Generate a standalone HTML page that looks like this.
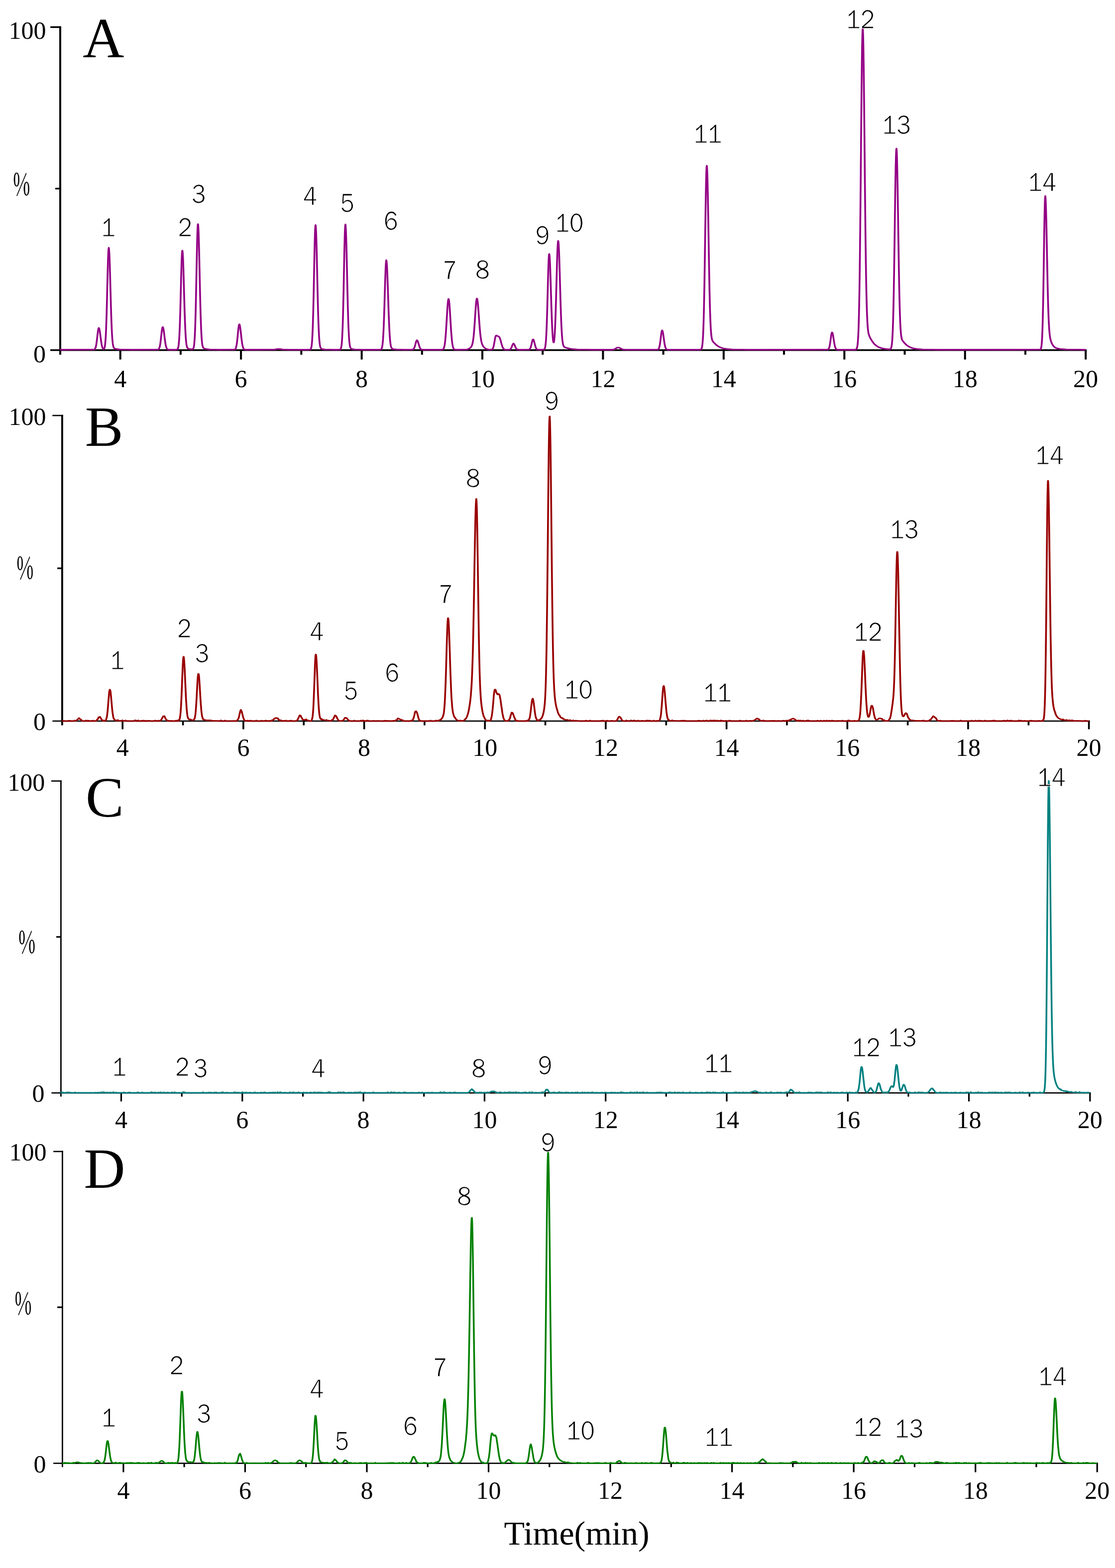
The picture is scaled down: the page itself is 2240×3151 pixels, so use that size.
<!DOCTYPE html>
<html><head><meta charset="utf-8"><title>Chromatograms</title>
<style>
html,body{margin:0;padding:0;background:#fff;}
svg{display:block;}
.ser{font-family:'Liberation Serif', serif;font-size:50px;fill:#000;}
.pct{font-family:'Noto Serif CJK SC', 'Liberation Serif', serif;font-size:60.7px;fill:#000;stroke:#000;stroke-width:0.5px;}
.let{font-family:'Liberation Serif', serif;font-size:115px;fill:#000;}
.ttl{font-family:'Liberation Serif', serif;font-size:68px;fill:#000;}
.pk{font-family:'WenQuanYi Zen Hei', sans-serif;font-size:53.6px;fill:#000;stroke:#fff;stroke-width:1.1px;}
</style></head>
<body>
<svg width="2240" height="3151" viewBox="0 0 2240 3151">
<rect x="0" y="0" width="2240" height="3151" fill="#fff"/>
<rect x="101.0" y="701.9" width="2082.1" height="3.4" fill="#000"/>
<rect x="239.7" y="703.6" width="4.0" height="18.9" fill="#000"/>
<rect x="360.9" y="703.6" width="4.0" height="9.2" fill="#000"/>
<rect x="482.1" y="703.6" width="4.0" height="18.9" fill="#000"/>
<rect x="603.3" y="703.6" width="4.0" height="9.2" fill="#000"/>
<rect x="724.6" y="703.6" width="4.0" height="18.9" fill="#000"/>
<rect x="845.8" y="703.6" width="4.0" height="9.2" fill="#000"/>
<rect x="967.0" y="703.6" width="4.0" height="18.9" fill="#000"/>
<rect x="1088.2" y="703.6" width="4.0" height="9.2" fill="#000"/>
<rect x="1209.4" y="703.6" width="4.0" height="18.9" fill="#000"/>
<rect x="1330.6" y="703.6" width="4.0" height="9.2" fill="#000"/>
<rect x="1451.8" y="703.6" width="4.0" height="18.9" fill="#000"/>
<rect x="1573.0" y="703.6" width="4.0" height="9.2" fill="#000"/>
<rect x="1694.3" y="703.6" width="4.0" height="18.9" fill="#000"/>
<rect x="1815.5" y="703.6" width="4.0" height="9.2" fill="#000"/>
<rect x="1936.7" y="703.6" width="4.0" height="18.9" fill="#000"/>
<rect x="2057.9" y="703.6" width="4.0" height="9.2" fill="#000"/>
<rect x="2179.1" y="703.6" width="4.0" height="18.9" fill="#000"/>
<rect x="119.0" y="52.8" width="4.0" height="660.0" fill="#000"/>
<rect x="101.2" y="52.8" width="21.8" height="3.4" fill="#000"/>
<rect x="111.0" y="377.4" width="10.0" height="3.2" fill="#000"/>
<g fill="none" stroke="#940085" stroke-width="2.8" stroke-linejoin="round">
<path id="trA" transform="translate(-0.4,0)" d="M120.5 702.8 L187.5 702.7 L188 702.7 L188.5 702.6 L189 702.5 L189.5 702.3 L190 702 L190.5 701.6 L191 700.9 L191.5 699.9 L192 698.6 L192.5 696.9 L193 694.7 L193.5 691.9 L194 688.6 L194.5 684.8 L195 680.7 L195.5 676.3 L196 671.9 L196.5 667.8 L197 664.2 L197.5 661.5 L198 659.7 L198.5 659.1 L199 659.6 L199.5 660.9 L200 663.2 L200.5 666 L201 669.5 L201.5 673.2 L202 677.1 L202.5 680.9 L203 684.6 L203.5 688 L204 691 L204.5 693.6 L205 695.8 L205.5 697.5 L206 698.9 L206.5 700 L207 700.7 L207.5 701.2 L208 701.5 L208.5 701.4 L209 701.1 L209.5 700.3 L210 699 L210.5 696.9 L211 693.7 L211.5 689.3 L212 683.2 L212.5 675.1 L213 664.6 L213.5 651.7 L214 636.3 L214.5 618.6 L215 599.1 L215.5 578.5 L216 558 L216.5 538.7 L217 522 L217.5 509 L218 500.7 L218.5 497.9 L219 500.2 L219.5 506.9 L220 517.7 L220.5 531.8 L221 548.3 L221.5 566.3 L222 584.9 L222.5 603.1 L223 620.4 L223.5 636 L224 649.8 L224.5 661.5 L225 671.2 L225.5 679 L226 685 L226.5 689.6 L227 693.1 L227.5 695.5 L228 697.3 L228.5 698.5 L229 699.4 L229.5 699.9 L230 700.3 L230.5 700.6 L231.5 701 L232.5 701.2 L233.5 701.4 L234.5 701.6 L235.5 701.7 L236.5 701.9 L237.5 702 L238.5 702.1 L239.5 702.2 L240.5 702.3 L241.5 702.3 L242.5 702.4 L243.5 702.5 L245.5 702.5 L247.5 702.6 L250.5 702.7 L254.5 702.7 L263.5 702.8 L316 702.7 L316.5 702.7 L317 702.6 L317.5 702.5 L318 702.2 L318.5 701.9 L319 701.4 L319.5 700.6 L320 699.6 L320.5 698.1 L321 696.2 L321.5 693.8 L322 690.8 L322.5 687.2 L323 683.2 L323.5 678.8 L324 674.2 L324.5 669.7 L325 665.5 L325.5 661.9 L326 659.2 L326.5 657.6 L327 657.2 L327.5 657.9 L328 659.5 L328.5 662 L329 665.1 L329.5 668.8 L330 672.7 L330.5 676.8 L331 680.8 L331.5 684.5 L332 688 L332.5 691.1 L333 693.7 L333.5 695.9 L334 697.6 L334.5 699.1 L335 700.1 L335.5 700.9 L336 701.5 L336.5 702 L337 702.2 L337.5 702.4 L338 702.6 L338.5 702.7 L339 702.7 L340 702.8 L354 702.8 L355 702.6 L355.5 702.5 L356 702.2 L356.5 701.8 L357 701.2 L357.5 700.1 L358 698.5 L358.5 696 L359 692.5 L359.5 687.5 L360 680.8 L360.5 672 L361 660.9 L361.5 647.3 L362 631.3 L362.5 613.3 L363 593.8 L363.5 573.7 L364 554 L364.5 536.1 L365 521.1 L365.5 510.2 L366 504.2 L366.5 503.6 L367 507.6 L367.5 515.8 L368 527.6 L368.5 542.4 L369 559.2 L369.5 577.1 L370 595.1 L370.5 612.6 L371 628.8 L371.5 643.3 L372 656 L372.5 666.6 L373 675.3 L373.5 682.1 L374 687.4 L374.5 691.4 L375 694.4 L375.5 696.5 L376 698 L376.5 699 L377 699.7 L377.5 700.2 L378 700.5 L378.5 700.8 L379.5 701.1 L380.5 701.3 L381.5 701.5 L382.5 701.6 L383.5 701.8 L384.5 701.9 L385.5 702 L386.5 701.9 L387 701.7 L387.5 701.4 L388 700.9 L388.5 700 L389 698.6 L389.5 696.3 L390 693 L390.5 688.2 L391 681.6 L391.5 672.6 L392 660.9 L392.5 646.2 L393 628.4 L393.5 607.7 L394 584.4 L394.5 559.5 L395 534 L395.5 509.4 L396 487.3 L396.5 469.3 L397 456.6 L397.5 450.4 L398 450.9 L398.5 457.1 L399 468.5 L399.5 484.3 L400 503.6 L400.5 525.3 L401 548.1 L401.5 570.9 L402 592.7 L402.5 612.9 L403 630.8 L403.5 646.3 L404 659.3 L404.5 669.8 L405 678.1 L405.5 684.4 L406 689.2 L406.5 692.7 L407 695.2 L407.5 696.9 L408 698.1 L408.5 699 L409 699.5 L409.5 699.9 L410 700.2 L411 700.6 L412 700.9 L413 701.1 L414 701.3 L415 701.5 L416 701.7 L417 701.8 L418 702 L419 702.1 L420 702.2 L421 702.3 L422 702.3 L423 702.4 L424 702.4 L426 702.5 L428 702.6 L430 702.6 L433 702.7 L438 702.8 L470 702.7 L470.5 702.7 L471 702.6 L471.5 702.4 L472 702.1 L472.5 701.7 L473 701.1 L473.5 700.2 L474 698.9 L474.5 697.2 L475 694.9 L475.5 692.1 L476 688.6 L476.5 684.5 L477 679.9 L477.5 674.9 L478 669.7 L478.5 664.7 L479 660.1 L479.5 656.3 L480 653.5 L480.5 652 L481 651.8 L481.5 652.8 L482 654.8 L482.5 657.7 L483 661.4 L483.5 665.5 L484 670 L484.5 674.5 L485 679 L485.5 683.1 L486 686.9 L486.5 690.3 L487 693.1 L487.5 695.5 L488 697.4 L488.5 698.9 L489 700 L489.5 700.9 L490 701.5 L490.5 701.9 L491 702.2 L491.5 702.4 L492 702.6 L492.5 702.7 L493 702.7 L494 702.8 L548 702.7 L549 702.7 L550 702.6 L551 702.5 L552 702.4 L553 702.2 L554 702.1 L555 701.9 L556 701.7 L557 701.5 L558 701.4 L559 701.3 L561 701.3 L562 701.4 L563 701.5 L564 701.7 L565 701.9 L566 702.1 L567 702.2 L568 702.4 L569 702.5 L570 702.6 L571 702.7 L573 702.7 L580 702.8 L621 702.8 L622 702.7 L622.5 702.6 L623 702.5 L623.5 702.2 L624 701.7 L624.5 700.9 L625 699.7 L625.5 697.8 L626 695 L626.5 690.8 L627 685 L627.5 677 L628 666.6 L628.5 653.2 L629 636.8 L629.5 617.3 L630 595.1 L630.5 570.9 L631 545.7 L631.5 520.8 L632 497.7 L632.5 478 L633 463.1 L633.5 454.3 L634 452.2 L634.5 456.2 L635 465.5 L635.5 479.6 L636 497.5 L636.5 518.3 L637 540.6 L637.5 563.4 L638 585.6 L638.5 606.4 L639 625.2 L639.5 641.7 L640 655.6 L640.5 667 L641 676.1 L641.5 683.2 L642 688.5 L642.5 692.5 L643 695.3 L643.5 697.3 L644 698.7 L644.5 699.7 L645 700.3 L645.5 700.7 L646 701 L647 701.4 L648 701.7 L649 701.8 L650 702 L651 702.1 L652 702.2 L653 702.3 L654 702.4 L655 702.4 L656 702.5 L658 702.6 L660 702.6 L663 702.7 L668 702.8 L681 702.8 L682 702.7 L682.5 702.6 L683 702.5 L683.5 702.2 L684 701.7 L684.5 700.9 L685 699.7 L685.5 697.8 L686 694.9 L686.5 690.8 L687 684.9 L687.5 676.9 L688 666.4 L688.5 652.9 L689 636.4 L689.5 616.9 L690 594.6 L690.5 570.3 L691 544.9 L691.5 519.9 L692 496.7 L692.5 476.9 L693 462 L693.5 453.1 L694 451 L694.5 455 L695 464.3 L695.5 478.5 L696 496.5 L696.5 517.4 L697 539.8 L697.5 562.7 L698 585.1 L698.5 606 L699 624.9 L699.5 641.4 L700 655.3 L700.5 666.8 L701 676 L701.5 683.1 L702 688.5 L702.5 692.4 L703 695.3 L703.5 697.3 L704 698.7 L704.5 699.7 L705 700.3 L705.5 700.7 L706 701 L707 701.4 L708 701.6 L709 701.8 L710 702 L711 702.1 L712 702.2 L713 702.3 L714 702.4 L715 702.4 L716 702.5 L718 702.6 L720 702.6 L723 702.7 L728 702.8 L763 702.8 L764 702.7 L765 702.4 L765.5 702.1 L766 701.6 L766.5 700.8 L767 699.6 L767.5 697.9 L768 695.5 L768.5 692.1 L769 687.5 L769.5 681.4 L770 673.6 L770.5 663.9 L771 652.3 L771.5 638.8 L772 623.6 L772.5 607.3 L773 590.3 L773.5 573.5 L774 557.8 L774.5 544 L775 533.2 L775.5 526 L776 523 L776.5 524.1 L777 528.7 L777.5 536.5 L778 547.2 L778.5 560.1 L779 574.5 L779.5 589.7 L780 605.1 L780.5 620 L781 634 L781.5 646.7 L782 657.9 L782.5 667.4 L783 675.4 L783.5 681.9 L784 687 L784.5 691 L785 694 L785.5 696.3 L786 697.9 L786.5 699 L787 699.9 L787.5 700.4 L788 700.8 L788.5 701.1 L789.5 701.5 L790.5 701.7 L791.5 701.8 L792.5 702 L793.5 702.1 L794.5 702.2 L795.5 702.2 L796.5 702.3 L797.5 702.4 L798.5 702.4 L800.5 702.5 L802.5 702.6 L804.5 702.6 L807.5 702.7 L812.5 702.8 L827.5 702.7 L828.5 702.6 L829.5 702.3 L830.5 701.7 L831.5 700.6 L832.5 698.6 L833.5 695.7 L834.5 692 L835.5 688.3 L836.5 685.3 L837.5 683.8 L838.5 684.3 L839.5 686.4 L840.5 689.5 L841.5 693 L842.5 696.2 L843.5 698.7 L844.5 700.5 L845.5 701.6 L846.5 702.3 L847.5 702.6 L848.5 702.7 L849.5 702.8 L886.5 702.8 L887.5 702.7 L888.5 702.6 L889.5 702.2 L890 701.9 L890.5 701.5 L891 700.8 L891.5 699.9 L892 698.6 L892.5 696.9 L893 694.7 L893.5 691.8 L894 688.2 L894.5 683.8 L895 678.5 L895.5 672.4 L896 665.4 L896.5 657.7 L897 649.5 L897.5 640.9 L898 632.4 L898.5 624.2 L899 616.8 L899.5 610.4 L900 605.5 L900.5 602.2 L901 600.8 L901.5 601.4 L902 603.8 L902.5 607.8 L903 613.4 L903.5 620.2 L904 627.8 L904.5 635.9 L905 644.3 L905.5 652.5 L906 660.4 L906.5 667.6 L907 674.2 L907.5 679.9 L908 684.9 L908.5 689 L909 692.4 L909.5 695 L910 697.1 L910.5 698.8 L911 700 L911.5 700.8 L912 701.5 L912.5 701.9 L913 702.2 L913.5 702.4 L914.5 702.7 L915.5 702.7 L918.5 702.8 L931.5 702.7 L933.5 702.7 L934.5 702.6 L935.5 702.5 L936.5 702.4 L937.5 702.3 L938.5 702.1 L939.5 701.8 L940.5 701.5 L941.5 701.1 L942.5 700.6 L943.5 700 L944.5 699.2 L945.5 698.3 L946.5 697 L947 696.3 L947.5 695.4 L948 694.2 L948.5 692.9 L949 691.2 L949.5 689.2 L950 686.7 L950.5 683.6 L951 680 L951.5 675.6 L952 670.5 L952.5 664.7 L953 658.2 L953.5 651.1 L954 643.6 L954.5 635.8 L955 628.1 L955.5 620.8 L956 614.1 L956.5 608.4 L957 604 L957.5 601.2 L958 599.9 L958.5 600.4 L959 602.3 L959.5 605.6 L960 610.1 L960.5 615.6 L961 621.9 L961.5 628.7 L962 635.7 L962.5 642.8 L963 649.6 L963.5 656.1 L964 662.1 L964.5 667.5 L965 672.3 L965.5 676.5 L966 680.1 L966.5 683.2 L967 685.8 L967.5 688 L968 689.8 L968.5 691.4 L969 692.7 L969.5 693.8 L970 694.7 L970.5 695.5 L971.5 696.9 L972.5 698.1 L973.5 699 L974.5 699.8 L975.5 700.4 L976.5 701 L977.5 701.4 L978.5 701.8 L979.5 702 L980.5 702.2 L981.5 702.4 L982.5 702.5 L983.5 702.6 L984.5 702.7 L986.5 702.7 L987.5 702.6 L988.5 702.2 L989.5 701.4 L990.5 699.6 L991.5 696.6 L992.5 692 L993.5 686.3 L994.5 680.6 L995.5 676.2 L996.5 674.4 L997.5 674.2 L998.5 674.6 L999.5 675.3 L1000.5 675.8 L1001.5 676.1 L1002.5 676.7 L1003.5 678 L1004.5 680.4 L1005.5 683.4 L1006.5 687 L1007.5 690.8 L1008.5 694.2 L1009.5 697.1 L1010.5 699.3 L1011.5 700.8 L1012.5 701.7 L1013.5 702.3 L1014.5 702.6 L1015.5 702.7 L1016.5 702.8 L1022.5 702.7 L1023.5 702.6 L1024.5 702.3 L1025.5 701.6 L1026.5 700.4 L1027.5 698.5 L1028.5 696 L1029.5 693.4 L1030.5 691.2 L1031.5 690.3 L1032.5 690.9 L1033.5 692.6 L1034.5 695 L1035.5 697.4 L1036.5 699.5 L1037.5 701 L1038.5 701.9 L1039.5 702.4 L1040.5 702.6 L1041.5 702.7 L1044.5 702.8 L1061.5 702.7 L1062.5 702.6 L1063.5 702.2 L1064.5 701.4 L1065.5 699.7 L1066.5 697 L1067.5 693.2 L1068.5 688.7 L1069.5 684.6 L1070.5 682.1 L1071.5 682.1 L1072.5 684.3 L1073.5 688 L1074.5 692.2 L1075.5 696 L1076.5 698.9 L1077.5 700.8 L1078.5 701.9 L1079.5 702.4 L1080.5 702.7 L1081.5 702.8 L1090.5 702.8 L1091.5 702.7 L1092 702.6 L1092.5 702.5 L1093 702.3 L1093.5 701.9 L1094 701.2 L1094.5 700.2 L1095 698.6 L1095.5 696.2 L1096 692.8 L1096.5 688 L1097 681.6 L1097.5 673.1 L1098 662.3 L1098.5 649.2 L1099 633.8 L1099.5 616.4 L1100 597.6 L1100.5 578.1 L1101 559.2 L1101.5 541.8 L1102 527.4 L1102.5 516.8 L1103 511.1 L1103.5 510.4 L1104 513.9 L1104.5 521.1 L1105 531.5 L1105.5 544.6 L1106 559.7 L1106.5 575.9 L1107 592.5 L1107.5 608.9 L1108 624.4 L1108.5 638.6 L1109 651.2 L1109.5 662 L1110 670.9 L1110.5 677.9 L1111 683 L1111.5 686.4 L1112 688.1 L1112.5 688.1 L1113 686.4 L1113.5 682.9 L1114 677.6 L1114.5 670.3 L1115 660.9 L1115.5 649.5 L1116 636 L1116.5 620.5 L1117 603.4 L1117.5 585.1 L1118 566.2 L1118.5 547.5 L1119 529.8 L1119.5 513.9 L1120 500.7 L1120.5 491 L1121 485.3 L1121.5 484 L1122 486.8 L1122.5 493.6 L1123 504 L1123.5 517.3 L1124 532.9 L1124.5 550.1 L1125 568 L1125.5 585.8 L1126 603.1 L1126.5 619.2 L1127 633.8 L1127.5 646.6 L1128 657.7 L1128.5 666.9 L1129 674.4 L1129.5 680.4 L1130 685 L1130.5 688.6 L1131 691.3 L1131.5 693.2 L1132 694.7 L1132.5 695.7 L1133 696.4 L1133.5 697 L1134.5 697.7 L1135.5 698.1 L1136.5 698.5 L1137.5 698.8 L1138.5 699.2 L1139.5 699.5 L1140.5 699.7 L1141.5 700 L1142.5 700.2 L1143.5 700.5 L1144.5 700.7 L1145.5 700.8 L1146.5 701 L1147.5 701.2 L1148.5 701.3 L1149.5 701.4 L1150.5 701.6 L1151.5 701.7 L1152.5 701.8 L1153.5 701.9 L1154.5 701.9 L1155.5 702 L1156.5 702.1 L1157.5 702.1 L1158.5 702.2 L1159.5 702.3 L1161.5 702.3 L1163.5 702.4 L1165.5 702.5 L1167.5 702.5 L1170.5 702.6 L1174.5 702.7 L1179.5 702.7 L1189.5 702.8 L1229.5 702.8 L1230.5 702.7 L1231.5 702.6 L1232.5 702.4 L1233.5 702.2 L1234.5 701.8 L1235.5 701.3 L1236.5 700.7 L1237.5 700.1 L1238.5 699.4 L1239.5 698.8 L1240.5 698.4 L1241.5 698.3 L1242.5 698.4 L1243.5 698.6 L1244.5 699 L1245.5 699.5 L1246.5 700.1 L1247.5 700.6 L1248.5 701.1 L1249.5 701.5 L1250.5 701.9 L1251.5 702.2 L1252.5 702.4 L1253.5 702.5 L1254.5 702.6 L1255.5 702.7 L1257.5 702.8 L1320.5 702.7 L1321 702.6 L1321.5 702.5 L1322 702.3 L1322.5 701.9 L1323 701.4 L1323.5 700.6 L1324 699.4 L1324.5 697.9 L1325 695.9 L1325.5 693.3 L1326 690.2 L1326.5 686.6 L1327 682.6 L1327.5 678.4 L1328 674.2 L1328.5 670.4 L1329 667.3 L1329.5 665.1 L1330 664 L1330.5 664.1 L1331 665.1 L1331.5 667 L1332 669.6 L1332.5 672.8 L1333 676.3 L1333.5 679.9 L1334 683.6 L1334.5 687 L1335 690.2 L1335.5 692.9 L1336 695.3 L1336.5 697.2 L1337 698.7 L1337.5 699.9 L1338 700.8 L1338.5 701.5 L1339 701.9 L1339.5 702.2 L1340 702.4 L1340.5 702.6 L1341 702.7 L1341.5 702.7 L1342.5 702.8 L1405.5 702.8 L1406.5 702.7 L1407.5 702.5 L1408.5 701.9 L1409 701.2 L1409.5 700.2 L1410 698.7 L1410.5 696.4 L1411 693.1 L1411.5 688.3 L1412 681.7 L1412.5 672.9 L1413 661.2 L1413.5 646.4 L1414 628 L1414.5 605.8 L1415 580 L1415.5 550.7 L1416 518.8 L1416.5 485.2 L1417 451.4 L1417.5 418.9 L1418 389.4 L1418.5 364.7 L1419 346.4 L1419.5 335.6 L1420 333 L1420.5 338 L1421 349.9 L1421.5 367.9 L1422 391.1 L1422.5 418.2 L1423 447.7 L1423.5 478.3 L1424 508.6 L1424.5 537.5 L1425 564.3 L1425.5 588.2 L1426 608.9 L1426.5 626.5 L1427 640.9 L1427.5 652.4 L1428 661.5 L1428.5 668.4 L1429 673.6 L1429.5 677.5 L1430 680.3 L1430.5 682.3 L1431 683.8 L1431.5 684.9 L1432 685.8 L1433 687.2 L1434 688.3 L1435 689.3 L1436 690.3 L1437 691.3 L1438 692.2 L1439 693.1 L1440 693.9 L1441 694.7 L1442 695.4 L1443 696 L1444 696.6 L1445 697.1 L1446 697.6 L1447 698.1 L1448 698.5 L1449 698.9 L1450 699.2 L1451 699.5 L1452 699.8 L1453 700.1 L1454 700.3 L1455 700.5 L1456 700.7 L1457 700.9 L1458 701.1 L1459 701.2 L1460 701.4 L1461 701.5 L1462 701.6 L1463 701.7 L1464 701.8 L1465 701.9 L1466 702 L1467 702 L1468 702.1 L1469 702.2 L1470 702.2 L1471 702.3 L1473 702.4 L1475 702.4 L1477 702.5 L1479 702.5 L1482 702.6 L1486 702.7 L1492 702.7 L1500 702.8 L1661.5 702.7 L1662 702.7 L1662.5 702.6 L1663 702.5 L1663.5 702.3 L1664 701.9 L1664.5 701.4 L1665 700.6 L1665.5 699.5 L1666 698.1 L1666.5 696.2 L1667 693.7 L1667.5 690.9 L1668 687.5 L1668.5 683.9 L1669 680.1 L1669.5 676.5 L1670 673.2 L1670.5 670.5 L1671 668.7 L1671.5 667.9 L1672 668.2 L1672.5 669.3 L1673 671.1 L1673.5 673.5 L1674 676.5 L1674.5 679.7 L1675 683 L1675.5 686.2 L1676 689.2 L1676.5 692 L1677 694.4 L1677.5 696.4 L1678 698.1 L1678.5 699.4 L1679 700.4 L1679.5 701.1 L1680 701.7 L1680.5 702.1 L1681 702.3 L1681.5 702.5 L1682 702.6 L1682.5 702.7 L1683.5 702.8 L1717 702.8 L1718 702.7 L1719 702.5 L1720 702 L1721 700.7 L1722 697.7 L1722.5 695 L1723 691.1 L1723.5 685.7 L1724 678.1 L1724.5 668 L1725 654.5 L1725.5 637.2 L1726 615.4 L1726.5 588.5 L1727 556.2 L1727.5 518.4 L1728 475.2 L1728.5 427.3 L1729 375.8 L1729.5 321.9 L1730 267.7 L1730.5 215.2 L1731 166.9 L1731.5 125 L1732 91.8 L1732.5 69 L1733 57.9 L1733.5 58.9 L1734 71 L1734.5 93.6 L1735 125.4 L1735.5 164.8 L1736 210 L1736.5 258.8 L1737 309.2 L1737.5 359.2 L1738 407.2 L1738.5 451.9 L1739 492.4 L1739.5 528.1 L1740 558.7 L1740.5 584.5 L1741 605.6 L1741.5 622.6 L1742 635.9 L1742.5 646.3 L1743 654.2 L1743.5 660.1 L1744 664.6 L1744.5 667.9 L1745 670.5 L1745.5 672.4 L1746.5 675.4 L1747.5 677.6 L1748.5 679.5 L1749.5 681.3 L1750.5 683 L1751.5 684.6 L1752.5 686.1 L1753.5 687.5 L1754.5 688.9 L1755.5 690.1 L1756.5 691.2 L1757.5 692.2 L1758.5 693.1 L1759.5 693.9 L1760.5 694.7 L1761.5 695.4 L1762.5 696 L1763.5 696.6 L1764.5 697.2 L1765.5 697.7 L1766.5 698.1 L1767.5 698.5 L1768.5 698.9 L1769.5 699.2 L1770.5 699.5 L1771.5 699.8 L1772.5 700.1 L1773.5 700.3 L1774.5 700.5 L1775.5 700.7 L1776.5 700.9 L1777.5 701.1 L1778.5 701.2 L1779.5 701.4 L1780.5 701.5 L1781.5 701.6 L1782.5 701.7 L1783.5 701.8 L1784.5 701.9 L1785.5 702 L1786.5 702 L1787.5 701.9 L1788.5 701.6 L1789.5 700.8 L1790 699.9 L1790.5 698.5 L1791 696.5 L1791.5 693.5 L1792 689.2 L1792.5 683.3 L1793 675.2 L1793.5 664.6 L1794 650.9 L1794.5 633.7 L1795 612.8 L1795.5 588 L1796 559.4 L1796.5 527.5 L1797 493.2 L1797.5 457.4 L1798 421.6 L1798.5 387.5 L1799 356.8 L1799.5 331.2 L1800 312.3 L1800.5 301.2 L1801 298.6 L1801.5 304 L1802 317 L1802.5 336.7 L1803 362 L1803.5 391.6 L1804 423.9 L1804.5 457.3 L1805 490.4 L1805.5 522.1 L1806 551.3 L1806.5 577.4 L1807 600.1 L1807.5 619.3 L1808 635 L1808.5 647.7 L1809 657.6 L1809.5 665.1 L1810 670.8 L1810.5 675 L1811 678.1 L1811.5 680.3 L1812 682 L1812.5 683.2 L1813 684.2 L1814 685.7 L1815 686.9 L1816 688 L1817 689.1 L1818 690.2 L1819 691.2 L1820 692.2 L1821 693.1 L1822 693.9 L1823 694.7 L1824 695.4 L1825 696 L1826 696.6 L1827 697.1 L1828 697.6 L1829 698.1 L1830 698.5 L1831 698.9 L1832 699.2 L1833 699.5 L1834 699.8 L1835 700.1 L1836 700.3 L1837 700.5 L1838 700.7 L1839 700.9 L1840 701.1 L1841 701.2 L1842 701.4 L1843 701.5 L1844 701.6 L1845 701.7 L1846 701.8 L1847 701.9 L1848 702 L1849 702 L1850 702.1 L1851 702.2 L1852 702.2 L1853 702.3 L1855 702.4 L1857 702.4 L1859 702.5 L1861 702.5 L1864 702.6 L1868 702.7 L1874 702.7 L1881 702.8 L2088.5 702.7 L2089 702.6 L2089.5 702.5 L2090 702.2 L2090.5 701.7 L2091 700.8 L2091.5 699.4 L2092 697 L2092.5 693.4 L2093 688 L2093.5 680.1 L2094 669.3 L2094.5 654.7 L2095 636 L2095.5 612.9 L2096 585.7 L2096.5 555 L2097 522.1 L2097.5 488.9 L2098 457.4 L2098.5 430.2 L2099 409.5 L2099.5 397 L2100 394 L2100.5 398.4 L2101 408.7 L2101.5 424.4 L2102 444.3 L2102.5 467.4 L2103 492.3 L2103.5 517.8 L2104 542.8 L2104.5 566.4 L2105 587.8 L2105.5 606.8 L2106 623 L2106.5 636.6 L2107 647.8 L2107.5 656.8 L2108 663.9 L2108.5 669.5 L2109 673.9 L2109.5 677.4 L2110 680.2 L2110.5 682.4 L2111 684.3 L2111.5 685.9 L2112 687.4 L2113 689.8 L2114 691.8 L2115 693.5 L2116 694.9 L2117 696.1 L2118 697.1 L2119 697.9 L2120 698.5 L2121 699.1 L2122 699.5 L2123 699.9 L2124 700.2 L2125 700.4 L2126 700.6 L2127 700.8 L2128 701 L2129 701.1 L2130 701.3 L2131 701.4 L2132 701.5 L2133 701.6 L2134 701.7 L2135 701.8 L2136 701.9 L2137 702 L2138 702 L2139 702.1 L2140 702.1 L2141 702.2 L2143 702.3 L2145 702.4 L2147 702.4 L2149 702.5 L2152 702.6 L2155 702.6 L2159 702.7 L2165 702.7 L2177 702.8 L2181 702.8"/>
<use href="#trA" x="0.8"/>
</g>
<text x="92.5" y="78.2" text-anchor="end" class="ser">100</text>
<text x="92.0" y="728.0" text-anchor="end" class="ser">0</text>
<text transform="translate(26.3,392.4) scale(0.61,1)" class="pct">%</text>
<text x="241.7" y="777.7" text-anchor="middle" class="ser">4</text>
<text x="484.1" y="777.7" text-anchor="middle" class="ser">6</text>
<text x="726.6" y="777.7" text-anchor="middle" class="ser">8</text>
<text x="969.0" y="777.7" text-anchor="middle" class="ser">10</text>
<text x="1211.4" y="777.7" text-anchor="middle" class="ser">12</text>
<text x="1453.8" y="777.7" text-anchor="middle" class="ser">14</text>
<text x="1696.3" y="777.7" text-anchor="middle" class="ser">16</text>
<text x="1938.7" y="777.7" text-anchor="middle" class="ser">18</text>
<text x="2181.1" y="777.7" text-anchor="middle" class="ser">20</text>
<text x="166.2" y="115.1" class="let">A</text>
<text transform="translate(203.8,475.2) scale(0.88,1)" class="pk">1</text>
<text transform="translate(357.5,474.8) scale(0.88,1)" class="pk">2</text>
<text transform="translate(384.7,408.4) scale(0.88,1)" class="pk">3</text>
<text transform="translate(608.7,412.0) scale(0.88,1)" class="pk">4</text>
<text transform="translate(683.6,425.9) scale(0.88,1)" class="pk">5</text>
<text transform="translate(771.2,462.2) scale(0.88,1)" class="pk">6</text>
<text transform="translate(889.5,560.7) scale(0.88,1)" class="pk">7</text>
<text transform="translate(955.2,560.0) scale(0.88,1)" class="pk">8</text>
<text transform="translate(1075.7,491.0) scale(0.88,1)" class="pk">9</text>
<text transform="translate(1115.8,466.3) scale(0.88,1)" class="pk">10</text>
<text transform="translate(1393.8,287.1) scale(0.88,1)" class="pk">11</text>
<text transform="translate(1700.4,56.8) scale(0.88,1)" class="pk">12</text>
<text transform="translate(1772.8,268.6) scale(0.88,1)" class="pk">13</text>
<text transform="translate(2065.8,383.5) scale(0.88,1)" class="pk">14</text>
<rect x="105.4" y="1447.7" width="2084.1" height="2.6" fill="#000"/>
<rect x="244.4" y="1449.0" width="3.6" height="16.5" fill="#000"/>
<rect x="365.8" y="1449.0" width="3.6" height="8.6" fill="#000"/>
<rect x="487.1" y="1449.0" width="3.6" height="16.5" fill="#000"/>
<rect x="608.4" y="1449.0" width="3.6" height="8.6" fill="#000"/>
<rect x="729.8" y="1449.0" width="3.6" height="16.5" fill="#000"/>
<rect x="851.1" y="1449.0" width="3.6" height="8.6" fill="#000"/>
<rect x="972.4" y="1449.0" width="3.6" height="16.5" fill="#000"/>
<rect x="1093.8" y="1449.0" width="3.6" height="8.6" fill="#000"/>
<rect x="1215.1" y="1449.0" width="3.6" height="16.5" fill="#000"/>
<rect x="1336.5" y="1449.0" width="3.6" height="8.6" fill="#000"/>
<rect x="1457.8" y="1449.0" width="3.6" height="16.5" fill="#000"/>
<rect x="1579.1" y="1449.0" width="3.6" height="8.6" fill="#000"/>
<rect x="1700.5" y="1449.0" width="3.6" height="16.5" fill="#000"/>
<rect x="1821.8" y="1449.0" width="3.6" height="8.6" fill="#000"/>
<rect x="1943.1" y="1449.0" width="3.6" height="16.5" fill="#000"/>
<rect x="2064.5" y="1449.0" width="3.6" height="8.6" fill="#000"/>
<rect x="2185.8" y="1449.0" width="3.6" height="16.5" fill="#000"/>
<rect x="123.0" y="833.7" width="3.8" height="623.9" fill="#000"/>
<rect x="105.3" y="833.7" width="21.5" height="2.6" fill="#000"/>
<rect x="115.1" y="1140.4" width="9.8" height="3.2" fill="#000"/>
<g fill="none" stroke="#990000" stroke-width="2.5" stroke-linejoin="round">
<path id="trB" transform="translate(-0.55,0)" d="M124.9 1449 L125.9 1449 L126.9 1448.2 L127.9 1449 L136.9 1449 L137.9 1448.2 L138.9 1449 L139.9 1448 L140.9 1449 L148.9 1449 L149.9 1447.7 L150.9 1448.8 L151.9 1448.6 L152.9 1448.1 L153.9 1447.5 L154.9 1446.6 L155.9 1445.6 L156.9 1444.7 L157.9 1444.1 L158.9 1442.9 L159.9 1444.5 L160.9 1445.4 L161.9 1445.5 L162.9 1445.9 L163.9 1448 L164.9 1448.5 L165.9 1448.8 L166.9 1448.9 L167.9 1449 L170.9 1449 L171.9 1447.9 L172.9 1449 L173.9 1449 L174.9 1447.8 L175.9 1449 L176.9 1449 L177.9 1448 L178.9 1449 L179.9 1448.5 L180.9 1449 L183.9 1449 L184.9 1448.2 L185.9 1449 L186.9 1447.9 L187.9 1449 L189.9 1449 L190.9 1448.9 L191.9 1448.8 L192.9 1448.5 L193.9 1448 L194.9 1446.1 L195.9 1445.9 L196.9 1444.3 L197.9 1441.3 L198.9 1441.5 L199.9 1441 L200.9 1440.2 L201.9 1442.5 L202.9 1444 L203.9 1445.6 L204.9 1446.9 L205.9 1447.8 L206.9 1448.4 L207.9 1448.7 L208.9 1447.6 L209.4 1448.2 L209.9 1448.9 L210.4 1448.8 L210.9 1448.7 L211.4 1448.5 L211.9 1448.1 L212.4 1447.6 L212.9 1446.8 L213.4 1445.7 L213.9 1443.1 L214.4 1442 L214.9 1439.2 L215.4 1435.7 L215.9 1431.4 L216.4 1426.3 L216.9 1420.6 L217.4 1414.4 L217.9 1408.1 L218.4 1401.8 L218.9 1396.1 L219.4 1390.5 L219.9 1387.9 L220.4 1386 L220.9 1385.8 L221.4 1387.1 L221.9 1388.6 L222.4 1393.5 L222.9 1398.1 L223.4 1403.5 L223.9 1409.1 L224.4 1414.8 L224.9 1420.4 L225.4 1425.5 L225.9 1430.1 L226.4 1434.1 L226.9 1436.6 L227.4 1440.1 L227.9 1442.3 L228.4 1444 L228.9 1444.1 L229.4 1444.8 L229.9 1446.8 L230.4 1446.5 L230.9 1447.5 L231.4 1447.7 L231.9 1447.9 L232.4 1448 L232.9 1448 L233.9 1447.3 L234.9 1448.2 L235.9 1447.6 L236.9 1446.9 L237.9 1448.3 L238.9 1448.4 L240.9 1448.5 L242.9 1448.6 L244.9 1448.6 L245.9 1447.4 L246.9 1448.7 L249.9 1448.8 L250.9 1448.8 L251.9 1447.6 L252.9 1448.8 L256.9 1448.9 L263.9 1448.9 L268.9 1449 L269.9 1448.3 L270.9 1447.6 L271.9 1448.4 L272.9 1447.6 L273.9 1449 L274.9 1449 L275.9 1448.2 L276.9 1449 L277.9 1447.6 L278.9 1449 L283.9 1449 L284.9 1448.1 L285.9 1449 L286.9 1449 L287.9 1447.7 L288.9 1449 L290.9 1449 L291.9 1448 L292.9 1449 L295.9 1449 L296.9 1448.1 L297.9 1449 L298.9 1448.2 L299.9 1448.4 L300.9 1448.5 L301.9 1449 L308.9 1449 L309.9 1448.4 L310.9 1449 L311.9 1447.8 L312.9 1448.1 L313.9 1448.4 L314.9 1449 L316.9 1449 L317.9 1448.1 L318.9 1448 L319.9 1448.9 L320.9 1448.7 L321.9 1448.3 L322.9 1447.5 L323.9 1446.4 L324.9 1444.8 L325.9 1442.9 L326.9 1441.1 L327.9 1439.3 L328.9 1439.6 L329.9 1438.8 L330.9 1440.3 L331.9 1443 L332.9 1444.6 L333.9 1446.1 L334.9 1447.2 L335.9 1448 L336.9 1447.7 L337.9 1448.8 L338.9 1448.9 L339.9 1448.2 L340.9 1449 L342.9 1449 L343.9 1448.2 L344.9 1449 L351.9 1449 L352.9 1448.1 L353.9 1449 L354.9 1447.8 L355.9 1449 L357.4 1448.9 L357.9 1448.8 L358.4 1447.4 L358.9 1448.4 L359.4 1448 L359.9 1446 L360.4 1446.4 L360.9 1445 L361.4 1442.8 L361.9 1439.8 L362.4 1435.7 L362.9 1430.3 L363.4 1423.4 L363.9 1414.9 L364.4 1404.8 L364.9 1393.4 L365.4 1380.9 L365.9 1367.8 L366.4 1355 L366.9 1343 L367.4 1332.9 L367.9 1325.2 L368.4 1320.6 L368.9 1319.6 L369.4 1321.6 L369.9 1326.4 L370.4 1333.6 L370.9 1342.8 L371.4 1353.4 L371.9 1364.8 L372.4 1376.5 L372.9 1386.5 L373.4 1398.5 L373.9 1408 L374.4 1415.1 L374.9 1423.4 L375.4 1428.7 L375.9 1433.8 L376.4 1437.4 L376.9 1440 L377.4 1442 L377.9 1443.4 L378.4 1443.2 L378.9 1445.1 L379.4 1444.8 L379.9 1445.8 L380.4 1446.1 L380.9 1446.2 L381.9 1446.4 L382.9 1445.6 L383.9 1446.8 L384.9 1447 L385.9 1447.1 L386.9 1447.2 L387.9 1447.2 L388.4 1447.2 L388.9 1447 L389.4 1446.8 L389.9 1446.3 L390.4 1444.1 L390.9 1444.3 L391.4 1442.5 L391.9 1440.1 L392.4 1436.7 L392.9 1432.4 L393.4 1426.9 L393.9 1419.2 L394.4 1412.6 L394.9 1403.9 L395.4 1394.6 L395.9 1385.1 L396.4 1375.9 L396.9 1367.6 L397.4 1359.9 L397.9 1356.2 L398.4 1353.9 L398.9 1354.1 L399.4 1355.7 L399.9 1359.7 L400.4 1366.6 L400.9 1373.9 L401.4 1381.9 L401.9 1390.4 L402.4 1398.9 L402.9 1407.1 L403.4 1414.6 L403.9 1420.4 L404.4 1427 L404.9 1431.8 L405.4 1435.6 L405.9 1438.7 L406.4 1441 L406.9 1442 L407.4 1444.1 L407.9 1445 L408.4 1445.6 L408.9 1445.2 L409.4 1446.3 L409.9 1446.5 L410.4 1446.7 L410.9 1446.8 L411.9 1447 L412.9 1447.1 L413.9 1447.3 L414.9 1447.4 L415.9 1447.5 L416.9 1447.6 L417.9 1447.8 L418.9 1447.9 L419.9 1447.2 L420.9 1448 L421.9 1448.1 L422.9 1447.4 L423.9 1448.3 L424.9 1447.8 L425.9 1448.4 L426.9 1448.4 L428.9 1448.5 L430.9 1448.6 L432.9 1448.7 L434.9 1448.7 L437.9 1448.8 L441.9 1448.9 L442.9 1448.9 L443.9 1447.5 L444.9 1448.9 L450.9 1448.9 L451.9 1447.7 L452.9 1449 L468.9 1449 L469.9 1448.5 L470.9 1449 L473.9 1449 L474.9 1448.9 L475.9 1448.1 L476.9 1447.1 L477.9 1445.4 L478.9 1444.6 L479.9 1441.2 L480.9 1436.8 L481.9 1432.2 L482.9 1428.6 L483.9 1426.4 L484.9 1428.3 L485.9 1431.2 L486.9 1435 L487.9 1439.1 L488.9 1442.6 L489.9 1445.3 L490.9 1447 L491.9 1448 L492.9 1448.6 L493.9 1448.8 L494.9 1448.2 L495.9 1449 L496.9 1448.1 L497.9 1447.9 L498.9 1449 L499.9 1448.2 L500.9 1449 L502.9 1449 L503.9 1447.9 L504.9 1449 L513.9 1449 L514.9 1447.7 L515.9 1449 L524.9 1449 L525.9 1448 L526.9 1449 L529.9 1449 L530.9 1448.5 L531.9 1449 L532.9 1449 L533.9 1447.7 L534.9 1449 L535.9 1448.3 L536.9 1449 L539.9 1449 L540.9 1448.1 L541.9 1449 L542.9 1448.9 L543.9 1448.8 L544.9 1448.7 L545.9 1447.3 L546.9 1448.1 L547.9 1447.5 L548.9 1446.8 L549.9 1444.8 L550.9 1445 L551.9 1444.1 L552.9 1443.3 L553.9 1442.8 L554.9 1442.7 L555.9 1443 L556.9 1443.6 L557.9 1443.1 L558.9 1445.4 L559.9 1445.5 L560.9 1447.1 L561.9 1447.8 L562.9 1448.2 L563.9 1447.2 L564.9 1447.5 L565.9 1448.9 L566.9 1448.9 L567.9 1449 L568.9 1448.2 L569.9 1449 L570.9 1448.2 L571.9 1449 L573.9 1449 L574.9 1447.7 L575.9 1449 L580.9 1449 L581.9 1448.2 L582.9 1449 L583.9 1449 L584.9 1447.9 L585.9 1449 L592.9 1449 L593.9 1448.9 L594.9 1448.7 L595.9 1448.2 L596.9 1447.4 L597.9 1446.1 L598.9 1444.3 L599.9 1442.1 L600.9 1440 L601.9 1437.6 L602.9 1438 L603.9 1437.8 L604.9 1440.4 L605.9 1442.5 L606.9 1443.2 L607.9 1446 L608.9 1446.2 L609.9 1446.4 L610.9 1446.3 L611.9 1446.5 L612.9 1446.2 L613.9 1446 L614.9 1445.4 L615.9 1446.5 L616.9 1447.1 L617.9 1447.7 L618.9 1448.2 L619.9 1447.7 L620.9 1448.8 L621.9 1448.9 L623.9 1448.9 L624.4 1448.8 L624.9 1448.6 L625.4 1448.3 L625.9 1447.8 L626.4 1447 L626.9 1445 L627.4 1442.8 L627.9 1440.7 L628.4 1436.5 L628.9 1430.9 L629.4 1423.5 L629.9 1414.2 L630.4 1401.8 L630.9 1389.7 L631.4 1376.4 L631.9 1361.9 L632.4 1347.9 L632.9 1333.9 L633.4 1325 L633.9 1316.8 L634.4 1315.1 L634.9 1316 L635.4 1320.1 L635.9 1327 L636.4 1336.3 L636.9 1347.3 L637.4 1359.3 L637.9 1370.4 L638.4 1384 L638.9 1395.5 L639.4 1404.9 L639.9 1414.8 L640.4 1422.4 L640.9 1428.6 L641.4 1433.5 L641.9 1437.2 L642.4 1440 L642.9 1442 L643.4 1443.4 L643.9 1444.4 L644.4 1445 L644.9 1444.2 L645.4 1445.8 L645.9 1446 L646.4 1446.1 L646.9 1445 L647.9 1446.4 L648.9 1446.6 L649.9 1446.8 L650.9 1446.9 L651.9 1447.1 L652.9 1447.3 L653.9 1447.4 L654.9 1447.5 L655.9 1446.6 L656.9 1447.8 L657.9 1447.9 L658.9 1448 L659.9 1448.1 L660.9 1448.1 L661.9 1448.2 L662.9 1448.3 L664.9 1448.3 L665.9 1448.2 L666.9 1446.6 L667.9 1447.1 L668.9 1445.9 L669.9 1444.2 L670.9 1442.1 L671.9 1440 L672.9 1437.6 L673.9 1437.9 L674.9 1438.5 L675.9 1440.1 L676.9 1442.3 L677.9 1444.4 L678.9 1446.1 L679.9 1447.4 L680.9 1448.2 L681.9 1448.6 L682.9 1448.8 L683.9 1448.8 L685.9 1448.8 L686.9 1448.7 L687.9 1448.4 L688.9 1448 L689.9 1447.1 L690.9 1445.3 L691.9 1444.7 L692.9 1442.3 L693.9 1442.5 L694.9 1442.2 L695.9 1442.6 L696.9 1443.6 L697.9 1445 L698.9 1446.3 L699.9 1446.7 L700.9 1448.1 L701.9 1448.6 L702.9 1448.8 L703.9 1448.9 L705.9 1449 L710.9 1449 L711.9 1447.8 L712.9 1449 L723.9 1449 L724.9 1447.8 L725.9 1449 L727.9 1449 L728.9 1447.6 L729.9 1448 L730.9 1449 L731.9 1448.2 L732.9 1449 L735.9 1449 L736.9 1447.9 L737.9 1449 L738.9 1447.8 L739.9 1449 L749.9 1449 L750.9 1448.2 L751.9 1449 L757.9 1449 L758.9 1448.3 L759.9 1449 L771.9 1449 L772.9 1448 L773.9 1449 L774.9 1449 L775.9 1448.3 L776.9 1449 L778.9 1449 L779.9 1448.4 L780.9 1449 L788.9 1449 L789.9 1448.2 L790.9 1449 L791.9 1448.9 L792.9 1448.3 L793.9 1448.6 L794.9 1447.1 L795.9 1447.7 L796.9 1446.9 L797.9 1446 L798.9 1443.9 L799.9 1443.5 L800.9 1444.4 L801.9 1444.6 L802.9 1445 L803.9 1445.7 L804.9 1446.3 L805.9 1445.9 L806.9 1446.8 L807.9 1448.1 L808.9 1448.4 L809.9 1447.4 L810.9 1448.8 L811.9 1448.9 L813.9 1449 L824.9 1449 L825.9 1447.7 L826.9 1448.7 L827.9 1448.2 L828.9 1447.2 L829.9 1445.5 L830.9 1442.8 L831.9 1439.3 L832.9 1435.3 L833.9 1430.4 L834.9 1429.4 L835.9 1429.1 L836.9 1430.7 L837.9 1432.7 L838.9 1436.2 L839.9 1440 L840.9 1443.8 L841.9 1446 L842.9 1447.4 L843.9 1448.2 L844.9 1448.7 L845.9 1448.9 L846.9 1448.9 L850.9 1449 L863.9 1449 L864.9 1447.7 L865.9 1449 L874.9 1449 L875.9 1447.8 L876.9 1447.9 L877.9 1448.8 L878.9 1448.7 L879.9 1448.6 L880.9 1447.5 L881.9 1448.1 L882.9 1447.8 L883.9 1447.3 L884.9 1445.7 L885.9 1446 L886.9 1445.1 L887.9 1443.1 L888.9 1442.3 L889.4 1441.3 L889.9 1438.6 L890.4 1438.4 L890.9 1436.4 L891.4 1433.7 L891.9 1430.4 L892.4 1426 L892.9 1420.4 L893.4 1413.4 L893.9 1404.7 L894.4 1393.2 L894.9 1381.8 L895.4 1367.7 L895.9 1351.9 L896.4 1334.9 L896.9 1317.3 L897.4 1299.8 L897.9 1283.2 L898.4 1268.4 L898.9 1256.2 L899.4 1247.5 L899.9 1242.2 L900.4 1242.3 L900.9 1245.6 L901.4 1252.4 L901.9 1261.6 L902.4 1274.8 L902.9 1289.1 L903.4 1304.7 L903.9 1320.7 L904.4 1336.6 L904.9 1351.8 L905.4 1364.5 L905.9 1377.4 L906.4 1389.9 L906.9 1399.6 L907.4 1407.7 L907.9 1413.4 L908.4 1420.1 L908.9 1424.6 L909.4 1428.2 L909.9 1431.2 L910.4 1433.6 L910.9 1435.5 L911.4 1437.2 L911.9 1438.6 L912.4 1439.7 L913.4 1441.7 L914.4 1442 L915.4 1444.6 L916.4 1445.6 L917.4 1446.4 L918.4 1447.1 L919.4 1447.6 L920.4 1448 L921.4 1448.3 L922.4 1448.5 L923.4 1448.6 L924.4 1447.5 L925.4 1448.8 L926.4 1448.2 L927.4 1448.7 L928.4 1448.6 L929.4 1448.5 L930.4 1448.3 L931.4 1447.9 L932.4 1447.5 L933.4 1446.9 L934.4 1445.1 L935.4 1444.9 L936.4 1443.5 L937.4 1441.7 L938.4 1439.4 L939.4 1436.5 L940.4 1433.1 L941.4 1428.9 L942.4 1424 L943.4 1417.3 L944.4 1411 L945.4 1402.2 L945.9 1397 L946.4 1389.7 L946.9 1383.9 L947.4 1375.8 L947.9 1366.2 L948.4 1355 L948.9 1341.4 L949.4 1326.6 L949.9 1309 L950.4 1289 L950.9 1266.5 L951.4 1241 L951.9 1214.8 L952.4 1186.4 L952.9 1157.1 L953.4 1126.3 L953.9 1099.2 L954.4 1072.6 L954.9 1049.1 L955.4 1029.5 L955.9 1014.8 L956.4 1005.7 L956.9 1002.6 L957.4 1007.2 L957.9 1020.5 L958.4 1041.8 L958.9 1068.3 L959.4 1102 L959.9 1136.8 L960.4 1173.7 L960.9 1208.2 L961.4 1243.4 L961.9 1274.3 L962.4 1301.7 L962.9 1325.3 L963.4 1345.3 L963.9 1361.9 L964.4 1375.5 L964.9 1386.5 L965.4 1394.8 L965.9 1402.7 L966.4 1408.7 L966.9 1413.7 L967.4 1418 L967.9 1421.7 L968.4 1424.9 L968.9 1427.8 L969.9 1432.7 L970.9 1436.6 L971.9 1439.8 L972.9 1441.4 L973.9 1444.2 L974.9 1445.6 L975.9 1446.7 L976.9 1447.4 L977.9 1448 L978.9 1448.3 L979.9 1448.6 L980.9 1447.5 L981.9 1448.8 L982.9 1448.8 L983.4 1448.7 L983.9 1448.6 L984.4 1448.3 L984.9 1448 L985.4 1447.4 L985.9 1446.7 L986.4 1445.6 L986.9 1442.7 L987.4 1441.2 L987.9 1439.5 L988.4 1435.3 L988.9 1432.4 L989.4 1427.3 L989.9 1422.8 L990.4 1417.2 L990.9 1411.3 L991.4 1405.5 L991.9 1399 L992.4 1394.9 L992.9 1390.8 L993.4 1387.8 L993.9 1386.1 L994.4 1385.6 L994.9 1385.8 L995.4 1385.7 L995.9 1387.5 L996.4 1388.8 L996.9 1390.3 L997.4 1391.8 L997.9 1393.1 L998.4 1394.2 L998.9 1393.7 L999.4 1395.4 L999.9 1395.5 L1000.4 1394.2 L1000.9 1395.1 L1001.4 1394.8 L1001.9 1394.7 L1002.4 1394.9 L1002.9 1395.5 L1003.4 1396.7 L1003.9 1397.6 L1004.4 1400.6 L1004.9 1403.2 L1005.4 1405.3 L1005.9 1409.4 L1006.4 1412.9 L1006.9 1416.6 L1007.4 1420.2 L1007.9 1422.7 L1008.4 1426.2 L1008.9 1430.6 L1009.4 1433.6 L1009.9 1436.4 L1010.4 1437.7 L1010.9 1440.8 L1011.4 1442.6 L1011.9 1444 L1012.4 1445.2 L1012.9 1446.1 L1013.4 1446.9 L1013.9 1447.5 L1014.4 1447.9 L1014.9 1448.2 L1015.4 1448.5 L1015.9 1448.6 L1016.9 1448.8 L1017.9 1448.9 L1018.9 1448.9 L1019.9 1448.8 L1020.9 1448.5 L1021.9 1446.7 L1022.9 1446.7 L1023.9 1444.8 L1024.9 1442 L1025.9 1437.8 L1026.9 1435.4 L1027.9 1431.8 L1028.9 1432 L1029.9 1432.8 L1030.9 1434.9 L1031.9 1437.8 L1032.9 1440.8 L1033.9 1442.6 L1034.9 1445.7 L1035.9 1447.2 L1036.9 1448.1 L1037.9 1448.6 L1038.9 1447.9 L1039.9 1448.9 L1041.9 1449 L1056.9 1449 L1057.9 1448.3 L1058.9 1447.9 L1059.4 1448.9 L1059.9 1448.8 L1060.4 1448.7 L1060.9 1448.6 L1061.4 1447 L1061.9 1446.9 L1062.4 1447.2 L1062.9 1445.1 L1063.4 1445 L1063.9 1443.4 L1064.4 1441.2 L1064.9 1438.5 L1065.4 1435.3 L1065.9 1431 L1066.4 1427.3 L1066.9 1422.9 L1067.4 1418.4 L1067.9 1414.2 L1068.4 1410.4 L1068.9 1407.4 L1069.4 1405.4 L1069.9 1404.5 L1070.4 1403.8 L1070.9 1406 L1071.4 1407.4 L1071.9 1410.9 L1072.4 1414.3 L1072.9 1418.1 L1073.4 1421.1 L1073.9 1425.9 L1074.4 1429.7 L1074.9 1433.2 L1075.4 1436.4 L1075.9 1439.1 L1076.4 1441.4 L1076.9 1443.2 L1077.4 1444 L1077.9 1445 L1078.4 1446.7 L1078.9 1447.4 L1079.4 1447.8 L1079.9 1448 L1080.4 1448.2 L1080.9 1446.9 L1081.4 1447.1 L1081.9 1448.2 L1082.4 1448.1 L1083.4 1447.7 L1084.4 1446.3 L1085.4 1446.4 L1086.4 1444.3 L1087.4 1444.1 L1088.4 1442.4 L1089.4 1440.3 L1090.4 1437.7 L1091.4 1434.4 L1092.4 1429.2 L1092.9 1426.5 L1093.4 1423.8 L1093.9 1418.6 L1094.4 1414.3 L1094.9 1407.6 L1095.4 1398.9 L1095.9 1387.8 L1096.4 1373.7 L1096.9 1355.9 L1097.4 1332.9 L1097.9 1306.8 L1098.4 1273.6 L1098.9 1236.5 L1099.4 1195.4 L1099.9 1148.2 L1100.4 1099.6 L1100.9 1048.8 L1101.4 998.7 L1101.9 951.5 L1102.4 909.7 L1102.9 875.6 L1103.4 851.2 L1103.9 838 L1104.4 836.7 L1104.9 846.6 L1105.4 867 L1105.9 896.6 L1106.4 934 L1106.9 977 L1107.4 1022.3 L1107.9 1071.4 L1108.4 1117.4 L1108.9 1164 L1109.4 1205.7 L1109.9 1243.3 L1110.4 1276.1 L1110.9 1304.1 L1111.4 1327.6 L1111.9 1346.8 L1112.4 1362.4 L1112.9 1374.8 L1113.4 1384.6 L1113.9 1391.9 L1114.4 1398.7 L1114.9 1403.7 L1115.4 1407.9 L1115.9 1411.4 L1116.4 1414.4 L1117.4 1419.5 L1118.4 1423.7 L1119.4 1426.4 L1120.4 1430.5 L1121.4 1433.1 L1122.4 1435.4 L1123.4 1437.3 L1124.4 1437.6 L1125.4 1440.3 L1126.4 1441.4 L1127.4 1442.3 L1128.4 1443.1 L1129.4 1442.5 L1130.4 1444.3 L1131.4 1443.7 L1132.4 1445.3 L1133.4 1445.6 L1134.4 1446 L1135.4 1446.3 L1136.4 1446.5 L1137.4 1446.8 L1138.4 1447 L1139.4 1446.5 L1140.4 1446.8 L1141.4 1447.5 L1142.4 1447.7 L1143.4 1447.8 L1144.4 1447.3 L1145.4 1446.8 L1146.4 1448.1 L1147.4 1448.2 L1148.4 1448.3 L1149.4 1448.3 L1150.4 1448.4 L1151.4 1447.2 L1152.4 1448.5 L1154.4 1448.6 L1155.4 1448.6 L1156.4 1448.1 L1157.4 1447.9 L1158.4 1448.7 L1161.4 1448.8 L1164.4 1448.9 L1169.4 1448.9 L1176.4 1449 L1177.4 1448 L1178.4 1448.3 L1179.4 1449 L1184.4 1449 L1185.4 1447.8 L1186.4 1449 L1206.4 1449 L1207.4 1448.3 L1208.4 1449 L1210.4 1449 L1211.4 1447.7 L1212.4 1449 L1218.4 1449 L1219.4 1448 L1220.4 1449 L1227.4 1449 L1228.4 1448.3 L1229.4 1448.3 L1230.4 1449 L1235.4 1449 L1236.4 1448.9 L1237.4 1448.7 L1238.4 1448.3 L1239.4 1447.3 L1240.4 1445.8 L1241.4 1443.8 L1242.4 1441.7 L1243.4 1440.3 L1244.4 1440.1 L1245.4 1440.9 L1246.4 1441.6 L1247.4 1443.6 L1248.4 1444.8 L1249.4 1447.2 L1250.4 1448.1 L1251.4 1448.6 L1252.4 1448.8 L1253.4 1448.9 L1255.4 1449 L1257.4 1449 L1258.4 1447.6 L1259.4 1449 L1261.4 1449 L1262.4 1448.5 L1263.4 1449 L1265.4 1449 L1266.4 1448.3 L1267.4 1447.6 L1268.4 1447.9 L1269.4 1448.4 L1270.4 1449 L1271.4 1449 L1272.4 1447.9 L1273.4 1447.7 L1274.4 1448.2 L1275.4 1449 L1276.4 1448 L1277.4 1449 L1281.4 1449 L1282.4 1447.7 L1283.4 1449 L1288.4 1449 L1289.4 1448.1 L1290.4 1449 L1291.4 1449 L1292.4 1448.5 L1293.4 1449 L1297.4 1449 L1298.4 1447.8 L1299.4 1449 L1300.4 1449 L1301.4 1447.8 L1302.4 1449 L1303.4 1449 L1304.4 1448.2 L1305.4 1447.8 L1306.4 1449 L1312.4 1449 L1313.4 1447.9 L1314.4 1449 L1319.4 1449 L1320.4 1448.1 L1321.4 1449 L1322.4 1448.9 L1322.9 1448.8 L1323.4 1448.7 L1323.9 1448.5 L1324.4 1448.1 L1324.9 1447.6 L1325.4 1446.8 L1325.9 1445.6 L1326.4 1443.4 L1326.9 1441.7 L1327.4 1438.8 L1327.9 1435 L1328.4 1430.4 L1328.9 1423.8 L1329.4 1418.6 L1329.9 1411.8 L1330.4 1404.7 L1330.9 1397.7 L1331.4 1391.1 L1331.9 1385.6 L1332.4 1381.4 L1332.9 1378.9 L1333.4 1378.3 L1333.9 1379.4 L1334.4 1381.9 L1334.9 1385.6 L1335.4 1390.4 L1335.9 1396 L1336.4 1402.1 L1336.9 1408.3 L1337.4 1414.4 L1337.9 1418.9 L1338.4 1425.5 L1338.9 1430.2 L1339.4 1434.2 L1339.9 1437 L1340.4 1440.3 L1340.9 1442.4 L1341.4 1444.1 L1341.9 1445.3 L1342.4 1446.2 L1342.9 1445.6 L1343.4 1447.3 L1343.9 1446.7 L1344.4 1447.8 L1344.9 1448 L1345.4 1448.1 L1346.4 1448.2 L1347.4 1448.3 L1348.4 1448.3 L1349.4 1448.4 L1350.4 1447.2 L1351.4 1448.5 L1353.4 1448.5 L1355.4 1448.6 L1357.4 1448.7 L1359.4 1448.7 L1362.4 1448.8 L1366.4 1448.9 L1367.4 1448.9 L1368.4 1448.1 L1369.4 1448.4 L1370.4 1448.9 L1371.4 1447.8 L1372.4 1448.9 L1373.4 1448.9 L1374.4 1448 L1375.4 1448.9 L1376.4 1448.1 L1377.4 1448.9 L1401.4 1449 L1402.4 1448.1 L1403.4 1449 L1404.4 1448 L1405.4 1449 L1406.4 1449 L1407.4 1448.3 L1408.4 1449 L1412.4 1449 L1413.4 1447.8 L1414.4 1449 L1417.4 1449 L1418.4 1447.9 L1419.4 1448.5 L1420.4 1447.7 L1421.4 1449 L1425.4 1449 L1426.4 1447.7 L1427.4 1447.7 L1428.4 1449 L1429.4 1447.7 L1430.4 1449 L1431.4 1449 L1432.4 1447.8 L1433.4 1449 L1434.4 1449 L1435.4 1447.6 L1436.4 1449 L1437.4 1449 L1438.4 1448.5 L1439.4 1447.9 L1440.4 1449 L1441.4 1448 L1442.4 1449 L1443.4 1449 L1444.4 1448.4 L1445.4 1449 L1447.4 1449 L1448.4 1447.6 L1449.4 1449 L1451.4 1449 L1452.4 1448.4 L1453.4 1449 L1457.4 1449 L1458.4 1448.1 L1459.4 1449 L1464.4 1449 L1465.4 1447.7 L1466.4 1448.4 L1467.4 1448.3 L1468.4 1449 L1485.4 1449 L1486.4 1448 L1487.4 1448.1 L1488.4 1449 L1498.4 1449 L1499.4 1447.9 L1500.4 1449 L1505.4 1449 L1506.4 1448.3 L1507.4 1449 L1508.4 1448.2 L1509.4 1448.9 L1510.4 1448.9 L1511.4 1448.7 L1512.4 1448.6 L1513.4 1448.3 L1514.4 1447.8 L1515.4 1447.3 L1516.4 1446.7 L1517.4 1446 L1518.4 1445.4 L1519.4 1444.8 L1520.4 1443.9 L1521.4 1443.7 L1522.4 1444.8 L1523.4 1445.2 L1524.4 1444.8 L1525.4 1446.5 L1526.4 1447.2 L1527.4 1447.7 L1528.4 1448.2 L1529.4 1448.5 L1530.4 1448.7 L1531.4 1448.8 L1532.4 1448.9 L1533.4 1447.6 L1534.4 1449 L1536.4 1449 L1537.4 1448.4 L1538.4 1449 L1545.4 1449 L1546.4 1448.4 L1547.4 1449 L1550.4 1449 L1551.4 1448.2 L1552.4 1449 L1554.4 1449 L1555.4 1448.1 L1556.4 1449 L1562.4 1449 L1563.4 1448.3 L1564.4 1449 L1571.4 1449 L1572.4 1448.4 L1573.4 1448.2 L1574.4 1448 L1575.4 1449 L1578.4 1449 L1579.4 1447.7 L1580.4 1449 L1581.4 1448 L1582.4 1448.9 L1583.4 1447.8 L1584.4 1447.7 L1585.4 1448.2 L1586.4 1447.7 L1587.4 1446 L1588.4 1446.4 L1589.4 1445.7 L1590.4 1445 L1591.4 1444.4 L1592.4 1444.1 L1593.4 1444 L1594.4 1444.3 L1595.4 1444.8 L1596.4 1445.5 L1597.4 1445.7 L1598.4 1447 L1599.4 1447.6 L1600.4 1448.1 L1601.4 1448.4 L1602.4 1448.7 L1603.4 1447.7 L1604.4 1448.9 L1605.4 1449 L1606.4 1447.7 L1607.4 1449 L1608.4 1447.8 L1609.4 1449 L1612.4 1449 L1613.4 1447.9 L1614.4 1449 L1619.4 1449 L1620.4 1447.9 L1621.4 1449 L1622.4 1449 L1623.4 1447.6 L1624.4 1449 L1625.4 1449 L1626.4 1448.3 L1627.4 1449 L1640.4 1449 L1641.4 1448.3 L1642.4 1447.9 L1643.4 1449 L1647.4 1449 L1648.4 1447.9 L1649.4 1449 L1654.4 1449 L1655.4 1448 L1656.4 1448.2 L1657.4 1449 L1660.4 1449 L1661.4 1447.7 L1662.4 1449 L1665.4 1449 L1666.4 1448 L1667.4 1449 L1670.4 1449 L1671.4 1447.7 L1672.4 1449 L1674.4 1449 L1675.4 1448.4 L1676.4 1449 L1682.4 1449 L1683.4 1448.3 L1684.4 1449 L1686.4 1449 L1687.4 1448.5 L1688.4 1449 L1691.4 1449 L1692.4 1447.9 L1693.4 1449 L1702.4 1449 L1703.4 1447.8 L1704.4 1449 L1705.4 1447.6 L1706.4 1449 L1715.4 1449 L1716.4 1448.1 L1717.4 1449 L1722.4 1448.9 L1723.4 1448.8 L1723.9 1448.6 L1724.4 1448.4 L1724.9 1447.9 L1725.4 1447.3 L1725.9 1446.2 L1726.4 1444.7 L1726.9 1442.5 L1727.4 1439.5 L1727.9 1435.3 L1728.4 1429.8 L1728.9 1422 L1729.4 1413.7 L1729.9 1403.3 L1730.4 1392.4 L1730.9 1379.5 L1731.4 1365.9 L1731.9 1352.1 L1732.4 1338.9 L1732.9 1326.6 L1733.4 1316.4 L1733.9 1311 L1734.4 1307.7 L1734.9 1307.9 L1735.4 1311 L1735.9 1316.6 L1736.4 1324.5 L1736.9 1334.2 L1737.4 1345.3 L1737.9 1356.1 L1738.4 1369 L1738.9 1380.7 L1739.4 1391.7 L1739.9 1401.7 L1740.4 1410.6 L1740.9 1417.1 L1741.4 1424.6 L1741.9 1429.7 L1742.4 1433.7 L1742.9 1436.7 L1743.4 1437.7 L1743.9 1440.3 L1744.4 1441 L1744.9 1441.1 L1745.4 1440.7 L1745.9 1439.8 L1746.4 1438.4 L1746.9 1436.5 L1747.9 1431.7 L1748.9 1426.1 L1749.9 1421.1 L1750.9 1418.1 L1751.9 1417.9 L1752.9 1420.4 L1753.9 1423.8 L1754.9 1430.1 L1755.9 1435.4 L1756.9 1439.8 L1757.9 1443 L1758.9 1445 L1759.9 1446.1 L1760.9 1446.4 L1761.9 1446.2 L1762.9 1445.8 L1763.9 1445.2 L1764.9 1444.5 L1765.9 1443.9 L1766.9 1443.6 L1767.9 1443.5 L1768.9 1443.7 L1769.9 1444.1 L1770.9 1444.8 L1771.9 1444.3 L1772.9 1446.4 L1773.9 1447.1 L1774.9 1447.6 L1775.9 1446.7 L1776.9 1448.4 L1777.9 1448.6 L1778.9 1448.7 L1779.9 1448.8 L1781.9 1448.8 L1782.9 1448.8 L1783.9 1448.7 L1784.9 1448.4 L1785.9 1446.9 L1786.9 1445 L1787.9 1444 L1788.9 1440.4 L1789.9 1435.5 L1790.9 1429.5 L1791.4 1426.3 L1791.9 1423 L1792.4 1419.1 L1792.9 1416.1 L1793.4 1412.5 L1793.9 1407.1 L1794.4 1403.7 L1794.9 1397.9 L1795.4 1390.6 L1795.9 1381.1 L1796.4 1369 L1796.9 1353.7 L1797.4 1334.9 L1797.9 1312.8 L1798.4 1286.3 L1798.9 1258.4 L1799.4 1230.6 L1799.9 1201.3 L1800.4 1173.6 L1800.9 1149.1 L1801.4 1129.3 L1801.9 1115.6 L1802.4 1109 L1802.9 1109.2 L1803.4 1116.4 L1803.9 1131.1 L1804.4 1150.3 L1804.9 1173.8 L1805.4 1200.4 L1805.9 1228.9 L1806.4 1257.8 L1806.9 1284.9 L1807.4 1312.6 L1807.9 1336.9 L1808.4 1358.4 L1808.9 1376.8 L1809.4 1392.3 L1809.9 1404.8 L1810.4 1414.8 L1810.9 1422.6 L1811.4 1428.4 L1811.9 1432.6 L1812.4 1435.7 L1812.9 1436.6 L1813.4 1439 L1813.9 1438.9 L1814.4 1439.3 L1814.9 1439.9 L1815.9 1438.9 L1816.9 1437.1 L1817.9 1435.2 L1818.9 1433.5 L1819.9 1432.9 L1820.9 1433.5 L1821.9 1434.5 L1822.9 1437.8 L1823.9 1440.5 L1824.9 1442.8 L1825.9 1443.5 L1826.9 1445.8 L1827.9 1446 L1828.9 1447 L1829.9 1447.2 L1830.9 1447.4 L1831.9 1447.6 L1832.9 1447.7 L1833.9 1447.8 L1834.9 1447.9 L1835.9 1448 L1836.9 1448.1 L1837.9 1448.2 L1838.9 1448.2 L1839.9 1448.3 L1840.9 1448.4 L1841.9 1448.4 L1843.9 1448.5 L1845.9 1448.6 L1847.9 1448.7 L1849.9 1448.7 L1850.9 1448.7 L1851.9 1448.1 L1852.9 1448.8 L1853.9 1448.8 L1854.9 1448 L1855.9 1447.8 L1856.9 1448.9 L1862.9 1448.9 L1863.9 1448.8 L1864.9 1448.7 L1865.9 1448.5 L1866.9 1448.1 L1867.9 1446.5 L1868.9 1446.7 L1869.9 1445.7 L1870.9 1444.4 L1871.9 1443.1 L1872.9 1441.8 L1873.9 1440.7 L1874.9 1439 L1875.9 1440 L1876.9 1440.4 L1877.9 1441.3 L1878.9 1442.6 L1879.9 1442.7 L1880.9 1444.1 L1881.9 1446.4 L1882.9 1447.3 L1883.9 1448 L1884.9 1448.4 L1885.9 1448.7 L1886.9 1448.8 L1887.9 1448.9 L1888.9 1447.8 L1889.9 1449 L1909.9 1449 L1910.9 1448.2 L1911.9 1449 L1913.9 1449 L1914.9 1448.1 L1915.9 1449 L1928.9 1449 L1929.9 1447.8 L1930.9 1449 L1950.9 1449 L1951.9 1447.9 L1952.9 1449 L1958.9 1449 L1959.9 1447.9 L1960.9 1449 L1964.9 1449 L1965.9 1447.9 L1966.9 1449 L1968.9 1449 L1969.9 1448 L1970.9 1449 L1977.9 1449 L1978.9 1447.9 L1979.9 1449 L1988.9 1449 L1989.9 1448.2 L1990.9 1449 L1993.9 1449 L1994.9 1447.9 L1995.9 1449 L1996.9 1449 L1997.9 1447.7 L1998.9 1449 L2013.9 1449 L2014.9 1448.4 L2015.9 1449 L2016.9 1447.9 L2017.9 1448.1 L2018.9 1449 L2020.9 1449 L2021.9 1448.2 L2022.9 1449 L2023.9 1447.6 L2024.9 1447.9 L2025.9 1449 L2027.9 1449 L2028.9 1448 L2029.9 1449 L2030.9 1449 L2031.9 1447.7 L2032.9 1449 L2045.9 1449 L2046.9 1447.6 L2047.9 1449 L2049.9 1449 L2050.9 1448.1 L2051.9 1448.1 L2052.9 1449 L2056.9 1449 L2057.9 1448.2 L2058.9 1449 L2068.9 1449 L2069.9 1448 L2070.9 1449 L2071.9 1448.1 L2072.9 1448.2 L2073.9 1448.5 L2074.9 1449 L2085.9 1449 L2086.9 1448.2 L2087.9 1449 L2092.9 1449 L2093.9 1448.9 L2094.4 1447.5 L2094.9 1448.6 L2095.4 1448.2 L2095.9 1446.4 L2096.4 1446.2 L2096.9 1444.2 L2097.4 1440.8 L2097.9 1435.6 L2098.4 1427.8 L2098.9 1416.4 L2099.4 1400.4 L2099.9 1378.2 L2100.4 1350.9 L2100.9 1316.2 L2101.4 1274.9 L2101.9 1227.9 L2102.4 1176.9 L2102.9 1124.8 L2103.4 1074.8 L2103.9 1029.6 L2104.4 995.8 L2104.9 973.6 L2105.4 966 L2105.9 970.9 L2106.4 985.3 L2106.9 1008.2 L2107.4 1038.1 L2107.9 1073.4 L2108.4 1112 L2108.9 1151.8 L2109.4 1189.9 L2109.9 1228.5 L2110.4 1262.8 L2110.9 1292.1 L2111.4 1319.5 L2111.9 1341.6 L2112.4 1358.7 L2112.9 1374.5 L2113.4 1386.2 L2113.9 1395.3 L2114.4 1402.6 L2114.9 1407.2 L2115.4 1412.8 L2115.9 1416.5 L2116.4 1419.5 L2116.9 1422.1 L2117.4 1424.4 L2118.4 1428.3 L2119.4 1430.4 L2120.4 1434.2 L2121.4 1436.5 L2122.4 1438.4 L2123.4 1439.9 L2124.4 1441.2 L2125.4 1442.2 L2126.4 1443.1 L2127.4 1443.8 L2128.4 1444.4 L2129.4 1444.8 L2130.4 1445.2 L2131.4 1445.6 L2132.4 1445.9 L2133.4 1446.2 L2134.4 1446.4 L2135.4 1445.3 L2136.4 1446.8 L2137.4 1447 L2138.4 1447.1 L2139.4 1447.3 L2140.4 1447.4 L2141.4 1447.6 L2142.4 1446.5 L2143.4 1447.1 L2144.4 1447.9 L2145.4 1448 L2146.4 1448 L2147.4 1447.3 L2148.4 1448.2 L2149.4 1447.4 L2150.4 1448.3 L2151.4 1448.4 L2152.4 1447.7 L2153.4 1447.3 L2154.4 1448.5 L2155.4 1447.7 L2156.4 1448.6 L2158.4 1448.7 L2160.4 1448.7 L2162.4 1448.7 L2163.4 1448.2 L2164.4 1448.8 L2168.4 1448.8 L2173.4 1448.9 L2179.4 1448.9 L2180.4 1448.1 L2181.4 1448.9 L2185.4 1449 L2187.4 1449"/>
<use href="#trB" x="1.1"/>
</g>
<text x="92.5" y="853.6" text-anchor="end" class="ser">100</text>
<text x="91.9" y="1467.4" text-anchor="end" class="ser">0</text>
<text transform="translate(33.2,1162.9) scale(0.61,1)" class="pct">%</text>
<text x="246.2" y="1518.6" text-anchor="middle" class="ser">4</text>
<text x="488.9" y="1518.6" text-anchor="middle" class="ser">6</text>
<text x="731.6" y="1518.6" text-anchor="middle" class="ser">8</text>
<text x="974.2" y="1518.6" text-anchor="middle" class="ser">10</text>
<text x="1216.9" y="1518.6" text-anchor="middle" class="ser">12</text>
<text x="1459.6" y="1518.6" text-anchor="middle" class="ser">14</text>
<text x="1702.3" y="1518.6" text-anchor="middle" class="ser">16</text>
<text x="1944.9" y="1518.6" text-anchor="middle" class="ser">18</text>
<text x="2187.6" y="1518.6" text-anchor="middle" class="ser">20</text>
<text x="170.7" y="896.1" class="let">B</text>
<text transform="translate(221.8,1344.7) scale(0.88,1)" class="pk">1</text>
<text transform="translate(356.0,1280.7) scale(0.88,1)" class="pk">2</text>
<text transform="translate(391.6,1330.8) scale(0.88,1)" class="pk">3</text>
<text transform="translate(622.2,1287.3) scale(0.88,1)" class="pk">4</text>
<text transform="translate(690.7,1406.4) scale(0.88,1)" class="pk">5</text>
<text transform="translate(773.7,1369.5) scale(0.88,1)" class="pk">6</text>
<text transform="translate(881.3,1211.9) scale(0.88,1)" class="pk">7</text>
<text transform="translate(936.2,979.4) scale(0.88,1)" class="pk">8</text>
<text transform="translate(1094.2,823.7) scale(0.88,1)" class="pk">9</text>
<text transform="translate(1134.2,1403.5) scale(0.88,1)" class="pk">10</text>
<text transform="translate(1412.9,1409.6) scale(0.88,1)" class="pk">11</text>
<text transform="translate(1715.7,1287.9) scale(0.88,1)" class="pk">12</text>
<text transform="translate(1788.4,1081.7) scale(0.88,1)" class="pk">13</text>
<text transform="translate(2080.6,932.8) scale(0.88,1)" class="pk">14</text>
<rect x="103.4" y="2195.0" width="2087.8" height="2.6" fill="#000"/>
<rect x="241.9" y="2196.3" width="3.2" height="17.1" fill="#000"/>
<rect x="363.6" y="2196.3" width="3.2" height="7.4" fill="#000"/>
<rect x="485.2" y="2196.3" width="3.2" height="17.1" fill="#000"/>
<rect x="606.9" y="2196.3" width="3.2" height="7.4" fill="#000"/>
<rect x="728.5" y="2196.3" width="3.2" height="17.1" fill="#000"/>
<rect x="850.1" y="2196.3" width="3.2" height="7.4" fill="#000"/>
<rect x="971.8" y="2196.3" width="3.2" height="17.1" fill="#000"/>
<rect x="1093.4" y="2196.3" width="3.2" height="7.4" fill="#000"/>
<rect x="1215.1" y="2196.3" width="3.2" height="17.1" fill="#000"/>
<rect x="1336.7" y="2196.3" width="3.2" height="7.4" fill="#000"/>
<rect x="1458.4" y="2196.3" width="3.2" height="17.1" fill="#000"/>
<rect x="1580.0" y="2196.3" width="3.2" height="7.4" fill="#000"/>
<rect x="1701.6" y="2196.3" width="3.2" height="17.1" fill="#000"/>
<rect x="1823.3" y="2196.3" width="3.2" height="7.4" fill="#000"/>
<rect x="1944.9" y="2196.3" width="3.2" height="17.1" fill="#000"/>
<rect x="2066.6" y="2196.3" width="3.2" height="7.4" fill="#000"/>
<rect x="2188.2" y="2196.3" width="3.2" height="17.1" fill="#000"/>
<rect x="121.0" y="1568.2" width="2.8" height="635.5" fill="#000"/>
<rect x="103.0" y="1568.2" width="20.8" height="2.6" fill="#000"/>
<rect x="113.1" y="1881.2" width="9.3" height="3.2" fill="#000"/>
<g fill="none" stroke="#008080" stroke-width="2.4" stroke-linejoin="round">
<path id="trC" transform="translate(-0.55,0)" d="M121.9 2196 L122.9 2196 L123.9 2194.9 L124.9 2196 L125.9 2194.9 L126.9 2196 L131.9 2196 L132.9 2195.3 L133.9 2196 L134.9 2196 L135.9 2195.2 L136.9 2194.8 L137.9 2196 L138.9 2196 L139.9 2195.3 L140.9 2195.1 L141.9 2196 L149.9 2196 L150.9 2195 L151.9 2196 L190.9 2196 L191.9 2195.5 L192.9 2196 L195.9 2196 L196.9 2195.2 L197.9 2196 L200.9 2196 L201.9 2195.1 L202.9 2196 L203.9 2194.9 L204.9 2196 L205.9 2194.7 L206.9 2196 L207.9 2194.8 L208.9 2194.8 L209.9 2196 L210.9 2195.4 L211.9 2196 L213.9 2196 L214.9 2195 L215.9 2196 L218.9 2196 L219.9 2195.2 L220.9 2196 L221.9 2195.4 L222.9 2196 L223.9 2196 L224.9 2195.5 L225.9 2196 L226.9 2196 L227.9 2194.6 L228.9 2196 L231.9 2196 L232.9 2195.4 L233.9 2196 L247.9 2196 L248.9 2194.9 L249.9 2196 L257.9 2196 L258.9 2195.2 L259.9 2196 L260.9 2195.1 L261.9 2196 L275.9 2196 L276.9 2194.7 L277.9 2196 L284.9 2196 L285.9 2195 L286.9 2196 L302.9 2196 L303.9 2194.6 L304.9 2196 L305.9 2195 L306.9 2196 L308.9 2196 L309.9 2195.3 L310.9 2195.3 L311.9 2196 L312.9 2195.4 L313.9 2196 L317.9 2196 L318.9 2195 L319.9 2196 L321.9 2196 L322.9 2194.7 L323.9 2196 L326.9 2196 L327.9 2195.5 L328.9 2196 L329.9 2194.9 L330.9 2196 L335.9 2196 L336.9 2195 L337.9 2196 L344.9 2196 L345.9 2194.8 L346.9 2196 L349.9 2196 L350.9 2194.8 L351.9 2196 L366.9 2196 L367.9 2194.6 L368.9 2196 L369.9 2194.6 L370.9 2195.1 L371.9 2196 L406.9 2196 L407.9 2194.8 L408.9 2196 L417.9 2196 L418.9 2195.2 L419.9 2196 L421.9 2196 L422.9 2195.1 L423.9 2196 L429.9 2196 L430.9 2195.1 L431.9 2196 L432.9 2196 L433.9 2194.9 L434.9 2196 L444.9 2196 L445.9 2194.8 L446.9 2196 L447.9 2194.7 L448.9 2196 L454.9 2196 L455.9 2195.4 L456.9 2196 L469.9 2196 L470.9 2194.6 L471.9 2194.9 L472.9 2196 L473.9 2195.3 L474.9 2196 L476.9 2196 L477.9 2195.4 L478.9 2195.3 L479.9 2196 L485.9 2196 L486.9 2194.6 L487.9 2196 L490.9 2196 L491.9 2195.4 L492.9 2196 L493.9 2196 L494.9 2195.1 L495.9 2196 L500.9 2196 L501.9 2195.2 L502.9 2196 L510.9 2196 L511.9 2194.8 L512.9 2196 L523.9 2196 L524.9 2195 L525.9 2196 L529.9 2196 L530.9 2194.8 L531.9 2196 L532.9 2195.4 L533.9 2196 L541.9 2196 L542.9 2195.4 L543.9 2196 L545.9 2196 L546.9 2195.4 L547.9 2196 L548.9 2195.3 L549.9 2196 L551.9 2196 L552.9 2195 L553.9 2196 L556.9 2196 L557.9 2194.6 L558.9 2196 L561.9 2196 L562.9 2194.6 L563.9 2196 L564.9 2195.3 L565.9 2196 L570.9 2196 L571.9 2195.4 L572.9 2195.5 L573.9 2196 L581.9 2196 L582.9 2194.8 L583.9 2196 L587.9 2196 L588.9 2194.8 L589.9 2196 L590.9 2195.1 L591.9 2196 L594.9 2196 L595.9 2195.5 L596.9 2196 L598.9 2196 L599.9 2194.7 L600.9 2196 L608.9 2196 L609.9 2195.1 L610.9 2196 L614.9 2196 L615.9 2195.4 L616.9 2196 L622.9 2196 L623.9 2194.9 L624.9 2196 L629.9 2196 L630.9 2194.7 L631.9 2196 L632.9 2196 L633.9 2195.3 L634.9 2196 L636.9 2196 L637.9 2194.9 L638.9 2196 L639.9 2195.1 L640.9 2196 L641.9 2196 L642.9 2194.9 L643.9 2196 L645.9 2196 L646.9 2195.2 L647.9 2196 L657.9 2196 L658.9 2194.9 L659.9 2195.2 L660.9 2194.6 L661.9 2196 L662.9 2194.6 L663.9 2196 L678.9 2196 L679.9 2194.7 L680.9 2196 L681.9 2196 L682.9 2195.4 L683.9 2194.7 L684.9 2196 L685.9 2196 L686.9 2195.3 L687.9 2196 L688.9 2196 L689.9 2194.7 L690.9 2194.9 L691.9 2196 L699.9 2196 L700.9 2195.2 L701.9 2196 L704.9 2196 L705.9 2195.4 L706.9 2196 L711.9 2196 L712.9 2194.9 L713.9 2196 L714.9 2195.1 L715.9 2196 L717.9 2196 L718.9 2194.9 L719.9 2196 L720.9 2196 L721.9 2194.8 L722.9 2196 L723.9 2194.6 L724.9 2196 L730.9 2196 L731.9 2195.4 L732.9 2195.3 L733.9 2196 L748.9 2196 L749.9 2194.8 L750.9 2196 L777.9 2196 L778.9 2194.7 L779.9 2196 L784.9 2196 L785.9 2194.6 L786.9 2195.4 L787.9 2196 L788.9 2195.3 L789.9 2196 L790.9 2196 L791.9 2194.9 L792.9 2194.9 L793.9 2196 L799.9 2196 L800.9 2195.2 L801.9 2195.3 L802.9 2196 L810.9 2196 L811.9 2194.8 L812.9 2196 L813.9 2196 L814.9 2195 L815.9 2196 L825.9 2196 L826.9 2195.5 L827.9 2196 L839.9 2196 L840.9 2195.2 L841.9 2195.3 L842.9 2196 L846.9 2196 L847.9 2195 L848.9 2196 L859.9 2196 L860.9 2195.4 L861.9 2196 L866.9 2196 L867.9 2195 L868.9 2196 L883.9 2196 L884.9 2194.6 L885.9 2196 L887.9 2196 L888.9 2195.3 L889.9 2196 L890.9 2195.4 L891.9 2194.6 L892.9 2196 L893.9 2196 L894.9 2195.5 L895.9 2196 L902.9 2196 L903.9 2195 L904.9 2196 L910.9 2196 L911.9 2195 L912.9 2196 L913.9 2196 L914.9 2195 L915.9 2196 L937.9 2196 L938.9 2195.9 L939.9 2195.8 L940.9 2195.5 L941.9 2195.1 L942.9 2194.3 L943.9 2193.1 L944.9 2191 L945.9 2190.4 L946.9 2189.4 L947.9 2188.5 L948.9 2189.4 L949.9 2190.4 L950.9 2191.8 L951.9 2193.1 L952.9 2192.9 L953.9 2195.1 L954.9 2195.5 L955.9 2195.8 L956.9 2195.9 L957.9 2196 L958.9 2195.4 L959.9 2196 L961.9 2196 L962.9 2195.2 L963.9 2195 L964.9 2196 L965.9 2196 L966.9 2194.9 L967.9 2196 L971.9 2196 L972.9 2195.3 L973.9 2196 L975.9 2196 L976.9 2195 L977.9 2196 L978.9 2195.9 L979.9 2194.7 L980.9 2195.7 L981.9 2195.5 L982.9 2195.2 L983.9 2194.9 L984.9 2194.5 L985.9 2194 L986.9 2193.6 L987.9 2193.2 L988.9 2193 L989.9 2193 L990.9 2193.2 L991.9 2193.5 L992.9 2192.9 L993.9 2193.6 L994.9 2194.8 L995.9 2195.2 L996.9 2195.5 L997.9 2194.7 L998.9 2195.8 L999.9 2195.9 L1000.9 2195.9 L1001.9 2196 L1002.9 2195.5 L1003.9 2194.7 L1004.9 2194.8 L1005.9 2195.1 L1006.9 2195.2 L1007.9 2196 L1011.9 2196 L1012.9 2195.2 L1013.9 2194.9 L1014.9 2196 L1016.9 2196 L1017.9 2195.2 L1018.9 2196 L1019.9 2195.3 L1020.9 2196 L1021.9 2195.4 L1022.9 2194.6 L1023.9 2196 L1024.9 2196 L1025.9 2194.7 L1026.9 2196 L1027.9 2195.4 L1028.9 2196 L1029.9 2196 L1030.9 2194.9 L1031.9 2195.3 L1032.9 2195.1 L1033.9 2196 L1034.9 2195.1 L1035.9 2196 L1036.9 2194.6 L1037.9 2196 L1039.9 2196 L1040.9 2195.4 L1041.9 2196 L1042.9 2195.4 L1043.9 2196 L1050.9 2196 L1051.9 2195.2 L1052.9 2196 L1053.9 2196 L1054.9 2195.5 L1055.9 2194.7 L1056.9 2196 L1062.9 2196 L1063.9 2194.6 L1064.9 2196 L1067.9 2196 L1068.9 2194.6 L1069.9 2196 L1075.9 2196 L1076.9 2195.3 L1077.9 2196 L1082.9 2196 L1083.9 2195.5 L1084.9 2196 L1087.9 2196 L1088.9 2194.6 L1089.9 2196 L1090.9 2194.8 L1091.9 2195.8 L1092.9 2195.5 L1093.9 2194.8 L1094.9 2193.7 L1095.9 2192.1 L1096.9 2189.9 L1097.9 2189.3 L1098.9 2189.1 L1099.9 2189.9 L1100.9 2191.4 L1101.9 2193.1 L1102.9 2194.4 L1103.9 2195.3 L1104.9 2195.7 L1105.9 2195.9 L1106.9 2196 L1108.9 2196 L1109.9 2195.3 L1110.9 2196 L1111.9 2195.4 L1112.9 2196 L1113.9 2194.8 L1114.9 2196 L1120.9 2196 L1121.9 2194.8 L1122.9 2196 L1123.9 2194.6 L1124.9 2196 L1126.9 2196 L1127.9 2195 L1128.9 2196 L1130.9 2196 L1131.9 2195.5 L1132.9 2196 L1134.9 2196 L1135.9 2195.4 L1136.9 2196 L1137.9 2194.8 L1138.9 2196 L1139.9 2196 L1140.9 2195.5 L1141.9 2195.4 L1142.9 2196 L1147.9 2196 L1148.9 2195 L1149.9 2196 L1154.9 2196 L1155.9 2195 L1156.9 2196 L1158.9 2196 L1159.9 2194.8 L1160.9 2196 L1168.9 2196 L1169.9 2194.8 L1170.9 2196 L1173.9 2196 L1174.9 2195 L1175.9 2196 L1179.9 2196 L1180.9 2195 L1181.9 2196 L1182.9 2195.5 L1183.9 2196 L1186.9 2196 L1187.9 2195.1 L1188.9 2196 L1189.9 2196 L1190.9 2194.8 L1191.9 2196 L1197.9 2196 L1198.9 2195.4 L1199.9 2196 L1207.9 2196 L1208.9 2195.3 L1209.9 2196 L1213.9 2196 L1214.9 2195.3 L1215.9 2196 L1216.9 2195 L1217.9 2196 L1226.9 2196 L1227.9 2195.3 L1228.9 2196 L1229.9 2195.2 L1230.9 2196 L1233.9 2196 L1234.9 2195.2 L1235.9 2196 L1240.9 2196 L1241.9 2195.5 L1242.9 2196 L1245.9 2196 L1246.9 2195.2 L1247.9 2194.6 L1248.9 2196 L1249.9 2196 L1250.9 2195.2 L1251.9 2196 L1265.9 2196 L1266.9 2194.7 L1267.9 2196 L1268.9 2196 L1269.9 2195.2 L1270.9 2196 L1273.9 2196 L1274.9 2194.9 L1275.9 2196 L1278.9 2196 L1279.9 2194.6 L1280.9 2196 L1283.9 2196 L1284.9 2195.1 L1285.9 2195.2 L1286.9 2196 L1288.9 2196 L1289.9 2195 L1290.9 2195.1 L1291.9 2196 L1292.9 2194.8 L1293.9 2196 L1298.9 2196 L1299.9 2195 L1300.9 2196 L1317.9 2196 L1318.9 2195.2 L1319.9 2196 L1320.9 2196 L1321.9 2195.1 L1322.9 2196 L1324.9 2196 L1325.9 2194.8 L1326.9 2196 L1328.9 2196 L1329.9 2195.1 L1330.9 2196 L1342.9 2196 L1343.9 2194.9 L1344.9 2196 L1345.9 2194.7 L1346.9 2196 L1348.9 2196 L1349.9 2195.4 L1350.9 2196 L1353.9 2196 L1354.9 2195.5 L1355.9 2194.7 L1356.9 2196 L1360.9 2196 L1361.9 2195 L1362.9 2195.4 L1363.9 2195.2 L1364.9 2196 L1365.9 2195.4 L1366.9 2196 L1370.9 2196 L1371.9 2194.8 L1372.9 2196 L1384.9 2196 L1385.9 2194.8 L1386.9 2195.1 L1387.9 2196 L1396.9 2196 L1397.9 2195.3 L1398.9 2196 L1408.9 2196 L1409.9 2195.1 L1410.9 2196 L1417.9 2196 L1418.9 2195.1 L1419.9 2196 L1420.9 2194.7 L1421.9 2196 L1422.9 2195.2 L1423.9 2195.4 L1424.9 2196 L1425.9 2196 L1426.9 2195.2 L1427.9 2196 L1431.9 2196 L1432.9 2194.8 L1433.9 2196 L1435.9 2196 L1436.9 2195 L1437.9 2196 L1449.9 2196 L1450.9 2195.2 L1451.9 2196 L1452.9 2194.6 L1453.9 2196 L1473.9 2196 L1474.9 2195.4 L1475.9 2196 L1476.9 2196 L1477.9 2194.6 L1478.9 2194.7 L1479.9 2196 L1482.9 2196 L1483.9 2195.2 L1484.9 2196 L1485.9 2195.2 L1486.9 2196 L1489.9 2196 L1490.9 2195.4 L1491.9 2196 L1492.9 2196 L1493.9 2194.8 L1494.9 2196 L1497.9 2196 L1498.9 2195.3 L1499.9 2196 L1500.9 2195.3 L1501.9 2196 L1504.9 2196 L1505.9 2195.2 L1506.9 2195.9 L1507.9 2195.1 L1508.9 2194.8 L1509.9 2195.3 L1510.9 2193.7 L1511.9 2194.4 L1512.9 2193.9 L1513.9 2193.4 L1514.9 2193 L1515.9 2192.6 L1516.9 2192.5 L1517.9 2192.6 L1518.9 2192.9 L1519.9 2193.3 L1520.9 2193.8 L1521.9 2194.3 L1522.9 2194.8 L1523.9 2195.2 L1524.9 2195.5 L1525.9 2195.7 L1526.9 2195 L1527.9 2195.3 L1528.9 2196 L1537.9 2196 L1538.9 2194.7 L1539.9 2196 L1546.9 2196 L1547.9 2195.1 L1548.9 2194.6 L1549.9 2196 L1560.9 2196 L1561.9 2194.9 L1562.9 2196 L1565.9 2196 L1566.9 2195.3 L1567.9 2196 L1568.9 2195 L1569.9 2196 L1575.9 2196 L1576.9 2195.3 L1577.9 2196 L1578.9 2195.4 L1579.9 2194.9 L1580.9 2194.8 L1581.9 2195.7 L1582.9 2195.4 L1583.9 2194.9 L1584.9 2194.1 L1585.9 2193 L1586.9 2191.9 L1587.9 2189.8 L1588.9 2189.2 L1589.9 2190.4 L1590.9 2190.5 L1591.9 2192.1 L1592.9 2192.4 L1593.9 2194.2 L1594.9 2195 L1595.9 2195.5 L1596.9 2195.8 L1597.9 2195.9 L1598.9 2196 L1599.9 2196 L1600.9 2195 L1601.9 2196 L1603.9 2196 L1604.9 2195.1 L1605.9 2194.7 L1606.9 2196 L1622.9 2196 L1623.9 2195 L1624.9 2196 L1625.9 2194.9 L1626.9 2196 L1628.9 2196 L1629.9 2195.2 L1630.9 2196 L1637.9 2196 L1638.9 2195 L1639.9 2196 L1640.9 2194.7 L1641.9 2196 L1643.9 2196 L1644.9 2194.8 L1645.9 2196 L1647.9 2196 L1648.9 2194.7 L1649.9 2195.2 L1650.9 2195.4 L1651.9 2196 L1661.9 2196 L1662.9 2194.7 L1663.9 2196 L1664.9 2195.1 L1665.9 2196 L1667.9 2196 L1668.9 2194.8 L1669.9 2196 L1674.9 2196 L1675.9 2195.1 L1676.9 2196 L1680.9 2196 L1681.9 2195.4 L1682.9 2196 L1689.9 2196 L1690.9 2194.9 L1691.9 2196 L1692.9 2194.9 L1693.9 2196 L1699.9 2196 L1700.9 2194.9 L1701.9 2196 L1705.9 2196 L1706.9 2194.7 L1707.9 2196 L1710.9 2196 L1711.9 2195.4 L1712.9 2196 L1717.9 2196 L1718.9 2195 L1719.9 2195.9 L1720.4 2195.9 L1720.9 2195.8 L1721.4 2195.7 L1721.9 2195.4 L1722.4 2195.1 L1722.9 2194.5 L1723.4 2192.6 L1723.9 2192.6 L1724.4 2189.6 L1724.9 2188.9 L1725.4 2186.3 L1725.9 2181.9 L1726.4 2179 L1726.9 2174.5 L1727.4 2169.5 L1727.9 2164.3 L1728.4 2159 L1728.9 2154.1 L1729.4 2148.8 L1729.9 2146.5 L1730.4 2144.4 L1730.9 2143.7 L1731.4 2144.3 L1731.9 2146 L1732.4 2148.8 L1732.9 2152.5 L1733.4 2156.7 L1733.9 2161.4 L1734.4 2166.2 L1734.9 2170.3 L1735.4 2174 L1735.9 2179.4 L1736.4 2183 L1736.9 2186 L1737.4 2188.5 L1737.9 2190.5 L1738.4 2192 L1738.9 2193.2 L1739.4 2194 L1739.9 2194.6 L1740.4 2194.4 L1740.9 2194.5 L1741.4 2195.2 L1741.9 2194 L1742.4 2195 L1742.9 2194.6 L1743.9 2193.6 L1744.9 2192.1 L1745.9 2190.4 L1746.9 2188.6 L1747.9 2187.4 L1748.9 2186 L1749.9 2186.7 L1750.9 2189 L1751.9 2189.6 L1752.9 2191.4 L1753.9 2192.8 L1754.9 2194.8 L1755.9 2195.4 L1756.9 2195.6 L1757.9 2195.4 L1758.9 2194.7 L1759.9 2193.2 L1760.9 2190.6 L1761.9 2186.3 L1762.9 2182.9 L1763.9 2179.1 L1764.9 2176.8 L1765.9 2176.8 L1766.9 2178.8 L1767.9 2182.2 L1768.9 2186.1 L1769.9 2189.7 L1770.9 2191.2 L1771.9 2194.1 L1772.9 2195.1 L1773.9 2195.6 L1774.9 2195.9 L1775.9 2194.9 L1776.9 2196 L1777.9 2194.7 L1778.9 2196 L1779.9 2195.4 L1780.9 2196 L1781.9 2194.6 L1782.9 2195.7 L1783.9 2195.2 L1784.9 2194.4 L1785.9 2192.3 L1786.9 2190.9 L1787.9 2188.4 L1788.9 2185.8 L1789.9 2183.8 L1790.4 2183.2 L1790.9 2182.8 L1791.4 2182.8 L1791.9 2182.5 L1792.4 2183.5 L1792.9 2184 L1793.4 2184.5 L1793.9 2184.7 L1794.4 2184.5 L1794.9 2183.8 L1795.4 2181.7 L1795.9 2180 L1796.4 2175.6 L1796.9 2173 L1797.4 2168.3 L1797.9 2162.3 L1798.4 2157.8 L1798.9 2152.6 L1799.4 2147.8 L1799.9 2143.9 L1800.4 2141.1 L1800.9 2139.8 L1801.4 2139.9 L1801.9 2141.3 L1802.4 2143.2 L1802.9 2147.5 L1803.4 2151.8 L1803.9 2156.7 L1804.4 2161.8 L1804.9 2167 L1805.4 2171.9 L1805.9 2176.4 L1806.4 2180.4 L1806.9 2183.9 L1807.4 2186.7 L1807.9 2188.2 L1808.4 2190.5 L1808.9 2191.6 L1809.4 2192.2 L1809.9 2192.3 L1810.4 2192 L1810.9 2191.3 L1811.4 2188.9 L1811.9 2188.8 L1812.4 2186.7 L1812.9 2185.5 L1813.4 2183.8 L1814.4 2180.9 L1815.4 2179.5 L1816.4 2180.1 L1817.4 2182.2 L1818.4 2184.8 L1819.4 2188.6 L1820.4 2191.4 L1821.4 2193.5 L1822.4 2194.7 L1823.4 2195.4 L1824.4 2195.8 L1825.4 2195.9 L1826.4 2196 L1827.4 2194.8 L1828.4 2196 L1837.4 2196 L1838.4 2194.8 L1839.4 2196 L1844.4 2196 L1845.4 2194.6 L1846.4 2196 L1847.4 2195.1 L1848.4 2196 L1849.4 2195 L1850.4 2196 L1851.4 2196 L1852.4 2194.9 L1853.4 2195.3 L1854.4 2196 L1860.4 2196 L1861.4 2195.9 L1862.4 2195.8 L1863.4 2195.5 L1864.4 2195.1 L1865.4 2194.4 L1866.4 2193.4 L1867.4 2192.1 L1868.4 2190.7 L1869.4 2189.2 L1870.4 2188 L1871.4 2187.3 L1872.4 2186.7 L1873.4 2188 L1874.4 2188.1 L1875.4 2190.7 L1876.4 2191 L1877.4 2192.2 L1878.4 2194.4 L1879.4 2195.1 L1880.4 2195.5 L1881.4 2195.8 L1882.4 2195.9 L1883.4 2196 L1887.4 2196 L1888.4 2195.3 L1889.4 2194.8 L1890.4 2196 L1894.4 2196 L1895.4 2195.3 L1896.4 2196 L1898.4 2196 L1899.4 2195.4 L1900.4 2196 L1901.4 2196 L1902.4 2195.3 L1903.4 2195.4 L1904.4 2196 L1910.4 2196 L1911.4 2195.4 L1912.4 2196 L1915.4 2196 L1916.4 2195.5 L1917.4 2196 L1918.4 2196 L1919.4 2194.9 L1920.4 2196 L1928.4 2196 L1929.4 2195.1 L1930.4 2196 L1940.4 2196 L1941.4 2194.7 L1942.4 2196 L1943.4 2195.2 L1944.4 2196 L1945.4 2194.9 L1946.4 2196 L1949.4 2196 L1950.4 2194.6 L1951.4 2196 L1959.4 2196 L1960.4 2195.5 L1961.4 2196 L1962.4 2196 L1963.4 2195.5 L1964.4 2196 L1965.4 2194.6 L1966.4 2196 L1969.4 2196 L1970.4 2195.2 L1971.4 2196 L1972.4 2196 L1973.4 2195.5 L1974.4 2196 L1986.4 2196 L1987.4 2194.7 L1988.4 2196 L1990.4 2196 L1991.4 2195 L1992.4 2196 L1993.4 2196 L1994.4 2195 L1995.4 2195.2 L1996.4 2196 L1998.4 2196 L1999.4 2194.7 L2000.4 2196 L2001.4 2196 L2002.4 2195.4 L2003.4 2196 L2004.4 2195.3 L2005.4 2196 L2006.4 2195.4 L2007.4 2196 L2010.4 2196 L2011.4 2195.1 L2012.4 2196 L2018.4 2196 L2019.4 2194.8 L2020.4 2196 L2021.4 2195.1 L2022.4 2195 L2023.4 2195.4 L2024.4 2196 L2025.4 2196 L2026.4 2194.7 L2027.4 2196 L2028.4 2196 L2029.4 2195.1 L2030.4 2196 L2038.4 2196 L2039.4 2195.3 L2040.4 2196 L2047.4 2196 L2048.4 2194.7 L2049.4 2196 L2053.4 2196 L2054.4 2194.7 L2055.4 2196 L2064.4 2196 L2065.4 2195 L2066.4 2196 L2072.4 2196 L2073.4 2195.5 L2074.4 2196 L2075.4 2196 L2076.4 2194.9 L2077.4 2196 L2078.4 2195.4 L2079.4 2196 L2088.4 2196 L2089.4 2194.8 L2090.4 2196 L2094.4 2196 L2095.4 2195.9 L2095.9 2195.7 L2096.4 2195.4 L2096.9 2194.9 L2097.4 2194 L2097.9 2192.4 L2098.4 2189.8 L2098.9 2185.4 L2099.4 2178.7 L2099.9 2168.5 L2100.4 2153.7 L2100.9 2133 L2101.4 2105.1 L2101.9 2068.9 L2102.4 2023.3 L2102.9 1970.4 L2103.4 1909.5 L2103.9 1842.6 L2104.4 1775.9 L2104.9 1711.1 L2105.4 1652.6 L2105.9 1608.9 L2106.4 1580.1 L2106.9 1569.1 L2107.4 1576.7 L2107.9 1594.8 L2108.4 1625.9 L2108.9 1665.6 L2109.4 1712.1 L2109.9 1762.2 L2110.4 1815.5 L2110.9 1867.4 L2111.4 1916.5 L2111.9 1961.5 L2112.4 2001.3 L2112.9 2035.7 L2113.4 2064.4 L2113.9 2087.9 L2114.4 2106.8 L2114.9 2120.5 L2115.4 2133.2 L2115.9 2142.2 L2116.4 2149.1 L2116.9 2154.6 L2117.4 2158.9 L2117.9 2162.4 L2118.4 2165.3 L2118.9 2167.8 L2119.9 2172 L2120.9 2175.4 L2121.9 2178.3 L2122.9 2180.8 L2123.9 2182.8 L2124.9 2184.6 L2125.9 2186 L2126.9 2187.1 L2127.9 2188.1 L2128.9 2187.9 L2129.9 2189.5 L2130.9 2188.7 L2131.9 2190.6 L2132.9 2191 L2133.9 2191.4 L2134.9 2191.7 L2135.9 2192 L2136.9 2192.3 L2137.9 2192.6 L2138.9 2192.8 L2139.9 2192.2 L2140.9 2193.2 L2141.9 2192.3 L2142.9 2193.6 L2143.9 2193.8 L2144.9 2193.9 L2145.9 2193.3 L2146.9 2194.2 L2147.9 2194.3 L2148.9 2194.4 L2149.9 2194.5 L2150.9 2194.6 L2151.9 2193.8 L2152.9 2194.8 L2153.9 2194.9 L2154.9 2195 L2155.9 2195.1 L2156.9 2195.1 L2157.9 2195.2 L2158.9 2195.2 L2159.9 2195.3 L2160.9 2194.1 L2161.9 2195.4 L2163.9 2195.5 L2165.9 2195.5 L2167.9 2195.6 L2168.9 2194.3 L2169.9 2195.7 L2172.9 2195.7 L2175.9 2195.8 L2179.9 2195.8 L2184.9 2195.9 L2185.9 2194.9 L2186.9 2196 L2188.9 2196"/>
<use href="#trC" x="1.1"/>
</g>
<text x="90.3" y="1588.7" text-anchor="end" class="ser">100</text>
<text x="89.4" y="2213.6" text-anchor="end" class="ser">0</text>
<text transform="translate(37.1,1914.7) scale(0.61,1)" class="pct">%</text>
<text x="243.5" y="2266.5" text-anchor="middle" class="ser">4</text>
<text x="486.8" y="2266.5" text-anchor="middle" class="ser">6</text>
<text x="730.1" y="2266.5" text-anchor="middle" class="ser">8</text>
<text x="973.4" y="2266.5" text-anchor="middle" class="ser">10</text>
<text x="1216.7" y="2266.5" text-anchor="middle" class="ser">12</text>
<text x="1460.0" y="2266.5" text-anchor="middle" class="ser">14</text>
<text x="1703.2" y="2266.5" text-anchor="middle" class="ser">16</text>
<text x="1946.5" y="2266.5" text-anchor="middle" class="ser">18</text>
<text x="2189.8" y="2266.5" text-anchor="middle" class="ser">20</text>
<text x="172.0" y="1640.8" class="let">C</text>
<text transform="translate(225.8,2161.6) scale(0.88,1)" class="pk">1</text>
<text transform="translate(352.0,2161.6) scale(0.88,1)" class="pk">2</text>
<text transform="translate(388.5,2165.3) scale(0.88,1)" class="pk">3</text>
<text transform="translate(625.3,2165.3) scale(0.88,1)" class="pk">4</text>
<text transform="translate(947.6,2165.3) scale(0.88,1)" class="pk">8</text>
<text transform="translate(1080.7,2159.4) scale(0.88,1)" class="pk">9</text>
<text transform="translate(1415.3,2154.5) scale(0.88,1)" class="pk">11</text>
<text transform="translate(1712.0,2123.1) scale(0.88,1)" class="pk">12</text>
<text transform="translate(1784.4,2103.1) scale(0.88,1)" class="pk">13</text>
<text transform="translate(2084.3,1579.6) scale(0.88,1)" class="pk">14</text>
<rect x="107.1" y="2939.3" width="2098.5" height="2.6" fill="#000"/>
<rect x="246.3" y="2940.6" width="3.2" height="17.9" fill="#000"/>
<rect x="368.5" y="2940.6" width="3.2" height="7.7" fill="#000"/>
<rect x="490.8" y="2940.6" width="3.2" height="17.9" fill="#000"/>
<rect x="613.1" y="2940.6" width="3.2" height="7.7" fill="#000"/>
<rect x="735.4" y="2940.6" width="3.2" height="17.9" fill="#000"/>
<rect x="857.6" y="2940.6" width="3.2" height="7.7" fill="#000"/>
<rect x="979.9" y="2940.6" width="3.2" height="17.9" fill="#000"/>
<rect x="1102.2" y="2940.6" width="3.2" height="7.7" fill="#000"/>
<rect x="1224.4" y="2940.6" width="3.2" height="17.9" fill="#000"/>
<rect x="1346.7" y="2940.6" width="3.2" height="7.7" fill="#000"/>
<rect x="1469.0" y="2940.6" width="3.2" height="17.9" fill="#000"/>
<rect x="1591.2" y="2940.6" width="3.2" height="7.7" fill="#000"/>
<rect x="1713.5" y="2940.6" width="3.2" height="17.9" fill="#000"/>
<rect x="1835.8" y="2940.6" width="3.2" height="7.7" fill="#000"/>
<rect x="1958.1" y="2940.6" width="3.2" height="17.9" fill="#000"/>
<rect x="2080.3" y="2940.6" width="3.2" height="7.7" fill="#000"/>
<rect x="2202.6" y="2940.6" width="3.2" height="17.9" fill="#000"/>
<rect x="124.0" y="2312.7" width="2.8" height="635.6" fill="#000"/>
<rect x="107.2" y="2312.7" width="19.6" height="2.6" fill="#000"/>
<rect x="115.1" y="2625.4" width="10.3" height="3.2" fill="#000"/>
<g fill="none" stroke="#008000" stroke-width="2.4" stroke-linejoin="round">
<path id="trD" transform="translate(-0.55,0)" d="M125.6 2940.5 L128.6 2940.5 L129.6 2939.3 L130.6 2940.5 L131.6 2939.9 L132.6 2939.5 L133.6 2940.5 L134.6 2940.5 L135.6 2939.7 L136.6 2940.5 L137.6 2939.7 L138.6 2940 L139.6 2940.5 L144.6 2940.4 L145.6 2940.4 L146.6 2940.3 L147.6 2938.9 L148.6 2940 L149.6 2939.8 L150.6 2939.5 L151.6 2939.2 L152.6 2938.9 L153.6 2938.7 L154.6 2938.5 L155.6 2938.5 L156.6 2938.6 L157.6 2938.8 L158.6 2939 L159.6 2939.3 L160.6 2939.6 L161.6 2939.9 L162.6 2940.1 L163.6 2939.5 L164.6 2940.4 L165.6 2940.4 L167.6 2940.5 L172.6 2940.5 L173.6 2939.9 L174.6 2939.7 L175.6 2940.5 L176.6 2940.5 L177.6 2939.3 L178.6 2940.5 L180.6 2940.5 L181.6 2939.4 L182.6 2939.6 L183.6 2940.5 L185.6 2940.5 L186.6 2940.4 L187.6 2940.3 L188.6 2940 L189.6 2939.6 L190.6 2938.8 L191.6 2937.8 L192.6 2936.6 L193.6 2935.5 L194.6 2934.7 L195.6 2934.5 L196.6 2935 L197.6 2935.9 L198.6 2937.1 L199.6 2937.7 L200.6 2939.2 L201.6 2939.8 L202.6 2940.2 L203.6 2940.3 L204.6 2940.4 L205.6 2940.4 L206.1 2939.7 L206.6 2940.2 L207.1 2940 L207.6 2939.7 L208.1 2939.2 L208.6 2937.7 L209.1 2936.4 L209.6 2936.2 L210.1 2934.4 L210.6 2932.1 L211.1 2929.3 L211.6 2925.9 L212.1 2922 L212.6 2917.7 L213.1 2913.2 L213.6 2908.7 L214.1 2904.5 L214.6 2900.8 L215.1 2897.9 L215.6 2896.1 L216.1 2895.5 L216.6 2896 L217.1 2897.5 L217.6 2899.9 L218.1 2903 L218.6 2906.6 L219.1 2910.6 L219.6 2914.7 L220.1 2918.7 L220.6 2922.4 L221.1 2925.9 L221.6 2928.9 L222.1 2931 L222.6 2933.6 L223.1 2935.3 L223.6 2936.6 L224.1 2937.6 L224.6 2938.3 L225.1 2938.9 L225.6 2939.2 L226.1 2939.5 L226.6 2939.7 L227.1 2939.8 L227.6 2939.9 L228.1 2939.9 L229.1 2940 L231.1 2940.1 L232.1 2938.8 L233.1 2940.1 L234.1 2939.6 L235.1 2940.2 L237.1 2940.2 L238.1 2940.3 L239.1 2939.5 L240.1 2939.1 L241.1 2940.3 L242.1 2939.2 L243.1 2940.3 L246.1 2940.4 L247.1 2939.7 L248.1 2940.4 L253.1 2940.4 L254.1 2939.6 L255.1 2940.4 L256.1 2940.5 L257.1 2939.6 L258.1 2940.5 L260.1 2940.5 L261.1 2939.1 L262.1 2940.5 L264.1 2940.5 L265.1 2939.3 L266.1 2939.7 L267.1 2940.5 L269.1 2940.5 L270.1 2939.9 L271.1 2940.5 L274.1 2940.5 L275.1 2939.7 L276.1 2940.5 L277.1 2939.4 L278.1 2940.5 L279.1 2939.6 L280.1 2940.5 L281.1 2939.6 L282.1 2940.5 L287.1 2940.5 L288.1 2939.8 L289.1 2940.5 L296.1 2940.5 L297.1 2939.5 L298.1 2939.7 L299.1 2939.4 L300.1 2940.5 L301.1 2940.5 L302.1 2939.8 L303.1 2940.5 L304.1 2939.1 L305.1 2940.5 L312.1 2940.5 L313.1 2939.2 L314.1 2939.1 L315.1 2940.5 L316.1 2940.4 L317.1 2940.3 L318.1 2939.5 L319.1 2939.6 L320.1 2939 L321.1 2937.4 L322.1 2937.1 L323.1 2936.2 L324.1 2935.6 L325.1 2935.5 L326.1 2936 L327.1 2936.9 L328.1 2936.7 L329.1 2938.8 L330.1 2939.5 L331.1 2940 L332.1 2940.3 L333.1 2940.4 L334.1 2940.5 L336.1 2940.5 L337.1 2939.5 L338.1 2940.5 L339.1 2939.2 L340.1 2940.5 L342.1 2940.5 L343.1 2939.2 L344.1 2940.5 L346.1 2940.5 L347.1 2939.1 L348.1 2940.5 L351.1 2940.5 L352.1 2939.2 L353.1 2940.5 L354.1 2940.4 L354.6 2940.3 L355.1 2940.1 L355.6 2939.8 L356.1 2939.3 L356.6 2938 L357.1 2937.4 L357.6 2935.6 L358.1 2933 L358.6 2929.4 L359.1 2923.6 L359.6 2917.3 L360.1 2910.2 L360.6 2900.3 L361.1 2888.8 L361.6 2875.7 L362.1 2861.6 L362.6 2847 L363.1 2832.8 L363.6 2819.8 L364.1 2808.9 L364.6 2801 L365.1 2796.7 L365.6 2796.3 L366.1 2798.1 L366.6 2804.4 L367.1 2813.6 L367.6 2824.3 L368.1 2836.3 L368.6 2847.8 L369.1 2861.5 L369.6 2874.7 L370.1 2886.3 L370.6 2896.8 L371.1 2905.8 L371.6 2912.7 L372.1 2919.6 L372.6 2923.3 L373.1 2928.2 L373.6 2931 L374.1 2933 L374.6 2934.5 L375.1 2935.5 L375.6 2936.2 L376.1 2936.1 L376.6 2936.1 L377.1 2937.3 L377.6 2937.4 L378.6 2937.7 L379.6 2937.9 L380.6 2938.1 L381.6 2938.2 L382.6 2937.8 L383.6 2938.6 L384.6 2938.7 L385.1 2938.8 L386.6 2938.8 L387.1 2937.9 L387.6 2938.4 L388.1 2938 L388.6 2937.3 L389.1 2936.4 L389.6 2935 L390.1 2933 L390.6 2930.5 L391.1 2927.2 L391.6 2923.2 L392.1 2917.2 L392.6 2912.9 L393.1 2906.9 L393.6 2900.7 L394.1 2893.6 L394.6 2888.8 L395.1 2883.9 L395.6 2880.3 L396.1 2878.1 L396.6 2877 L397.1 2878.6 L397.6 2881 L398.1 2884.5 L398.6 2888.9 L399.1 2894.1 L399.6 2899.6 L400.1 2905.3 L400.6 2910.8 L401.1 2915.9 L401.6 2920.5 L402.1 2924.6 L402.6 2928 L403.1 2930.8 L403.6 2933 L404.1 2934.8 L404.6 2935.3 L405.1 2937 L405.6 2937.7 L406.1 2938.2 L406.6 2938.6 L407.1 2938.8 L407.6 2938.3 L408.1 2939.1 L408.6 2937.8 L409.6 2939.3 L410.6 2939.4 L411.6 2939.4 L412.6 2939.5 L413.6 2939.6 L414.6 2939.7 L415.6 2939.7 L416.6 2939.8 L417.6 2939.9 L418.6 2939.9 L419.6 2940 L420.6 2939 L421.6 2940.1 L423.6 2940.1 L425.6 2940.2 L427.6 2940.2 L430.6 2940.3 L431.6 2939.7 L432.6 2940.3 L435.6 2940.4 L436.6 2939.7 L437.6 2940.4 L438.6 2940.4 L439.6 2939.4 L440.6 2940.4 L441.6 2939.8 L442.6 2940.4 L443.6 2939.7 L444.6 2940.4 L450.6 2940.5 L451.6 2939.1 L452.6 2939.9 L453.6 2940.5 L467.6 2940.5 L468.6 2940 L469.6 2940.5 L471.6 2940.5 L472.6 2940.4 L473.6 2939.1 L474.6 2939.8 L475.6 2938.9 L476.6 2937.1 L477.6 2934.3 L478.6 2930.6 L479.6 2926 L480.6 2923.2 L481.6 2921.5 L482.6 2921.1 L483.6 2924.3 L484.6 2927.5 L485.6 2931.1 L486.6 2934.3 L487.6 2936.8 L488.6 2938.5 L489.6 2939.5 L490.6 2940.1 L491.6 2940.3 L492.6 2940.4 L494.6 2940.5 L495.6 2939.4 L496.6 2939.9 L497.6 2940.5 L506.6 2940.5 L507.6 2940 L508.6 2940.5 L512.6 2940.5 L513.6 2939.9 L514.6 2940.5 L521.6 2940.5 L522.6 2940 L523.6 2940.5 L525.6 2940.5 L526.6 2940 L527.6 2940.5 L532.6 2940.5 L533.6 2939.2 L534.6 2940.5 L536.6 2940.5 L537.6 2939.6 L538.6 2939.3 L539.6 2940.5 L540.6 2940.4 L541.6 2940.4 L542.6 2940.2 L543.6 2940 L544.6 2939.7 L545.6 2939.2 L546.6 2938.6 L547.6 2937.8 L548.6 2936.9 L549.6 2936 L550.6 2935.2 L551.6 2934.7 L552.6 2934.5 L553.6 2934.7 L554.6 2935.2 L555.6 2936 L556.6 2935.8 L557.6 2937.8 L558.6 2938.6 L559.6 2939.2 L560.6 2939.2 L561.6 2940 L562.6 2940.2 L563.6 2940.4 L564.6 2940.4 L566.6 2940.5 L568.6 2940.5 L569.6 2940 L570.6 2940.5 L581.6 2940.5 L582.6 2939.6 L583.6 2939.7 L584.6 2940.5 L585.6 2940.5 L586.6 2939.8 L587.6 2940.5 L590.6 2940.5 L591.6 2940.4 L592.6 2940.3 L593.6 2940.1 L594.6 2939.8 L595.6 2939.3 L596.6 2938.5 L597.6 2937.6 L598.6 2936.5 L599.6 2935.6 L600.6 2934.8 L601.6 2934.5 L602.6 2934.7 L603.6 2935.2 L604.6 2936.1 L605.6 2935.9 L606.6 2937.6 L607.6 2939 L608.6 2939.6 L609.6 2939.1 L610.6 2940.2 L611.6 2940.4 L612.6 2940.4 L613.6 2939.1 L614.6 2940.5 L615.6 2940.5 L616.6 2939.7 L617.6 2940.5 L623.1 2940.4 L623.6 2940.4 L624.1 2940.3 L624.6 2940.1 L625.1 2939.8 L625.6 2939.3 L626.1 2938.5 L626.6 2937.3 L627.1 2935.5 L627.6 2932.9 L628.1 2929.3 L628.6 2924.5 L629.1 2918.5 L629.6 2910.3 L630.1 2902.4 L630.6 2892.7 L631.1 2882.5 L631.6 2872.2 L632.1 2861.5 L632.6 2854.6 L633.1 2848.6 L633.6 2844.7 L634.1 2845 L634.6 2847 L635.1 2851.2 L635.6 2857.2 L636.1 2864.6 L636.6 2873 L637.1 2880.7 L637.6 2890.7 L638.1 2899.2 L638.6 2907 L639.1 2913.8 L639.6 2919.7 L640.1 2924.5 L640.6 2928.4 L641.1 2931.4 L641.6 2933.6 L642.1 2935.3 L642.6 2936.4 L643.1 2936.1 L643.6 2937.8 L644.1 2938.2 L644.6 2938.4 L645.1 2938.6 L645.6 2938.7 L646.1 2938.8 L647.1 2938.9 L648.1 2939 L649.1 2939.1 L650.1 2939.2 L651.1 2939.3 L652.1 2939.4 L653.1 2939.5 L654.1 2939.6 L655.1 2939.7 L656.1 2939.7 L657.1 2938.8 L658.1 2939.9 L659.1 2939.9 L661.1 2940 L663.1 2940.1 L664.1 2940 L665.1 2939.9 L666.1 2939.1 L667.1 2939.2 L668.1 2937.5 L669.1 2937.3 L670.1 2935.9 L671.1 2934.6 L672.1 2932.3 L673.1 2933.3 L674.1 2933.8 L675.1 2934.9 L676.1 2936.3 L677.1 2937.6 L678.1 2938.7 L679.1 2938.7 L680.1 2940 L681.1 2940.2 L682.1 2940.4 L685.1 2940.4 L686.1 2940.2 L687.1 2940 L688.1 2939.5 L689.1 2938.8 L690.1 2937.8 L691.1 2936.6 L692.1 2934.6 L693.1 2934.7 L694.1 2934.5 L695.1 2934.9 L696.1 2935.9 L697.1 2937.1 L698.1 2938.2 L699.1 2939.1 L700.1 2939.8 L701.1 2940.2 L702.1 2939.5 L703.1 2939.4 L704.1 2940.5 L705.1 2939.4 L706.1 2940.5 L712.1 2940.5 L713.1 2939.8 L714.1 2940.5 L721.1 2940.5 L722.1 2939.8 L723.1 2939.9 L724.1 2940.5 L725.1 2939.4 L726.1 2940.5 L731.1 2940.5 L732.1 2939.5 L733.1 2940.5 L734.1 2940.5 L735.1 2939.3 L736.1 2939.3 L737.1 2940.5 L753.1 2940.5 L754.1 2939.2 L755.1 2940.5 L778.1 2940.5 L779.1 2939.7 L780.1 2940.5 L782.1 2940.5 L783.1 2939.6 L784.1 2940.5 L785.1 2940.5 L786.1 2939.4 L787.1 2940.5 L789.1 2940.5 L790.1 2939.2 L791.1 2940.5 L801.1 2940.5 L802.1 2939.4 L803.1 2940.5 L808.1 2940.5 L809.1 2939.1 L810.1 2940.5 L815.1 2940.5 L816.1 2939.2 L817.1 2940.5 L821.1 2940.4 L822.1 2940.3 L823.1 2940 L824.1 2938.9 L825.1 2938.4 L826.1 2936.7 L827.1 2934.4 L828.1 2931.8 L829.1 2929.2 L830.1 2927.5 L831.1 2927 L832.1 2927.9 L833.1 2929.7 L834.1 2932.1 L835.1 2933.6 L836.1 2936.6 L837.1 2938.2 L838.1 2938.5 L839.1 2939.9 L840.1 2939.3 L841.1 2940.4 L842.1 2940.5 L850.1 2940.5 L851.1 2939.3 L852.1 2940.5 L853.1 2939.7 L854.1 2940.5 L855.1 2939.3 L856.1 2940.5 L865.1 2940.5 L866.1 2939.2 L867.1 2940.5 L870.1 2940.4 L871.1 2940.4 L872.1 2940.3 L873.1 2939.5 L874.1 2940.1 L875.1 2938.5 L876.1 2938.7 L877.1 2939.4 L878.1 2939 L879.1 2937.2 L880.1 2937.9 L881.1 2937.1 L882.1 2936 L882.6 2935.2 L883.1 2934.3 L883.6 2933.2 L884.1 2931.7 L884.6 2929.8 L885.1 2927.3 L885.6 2924.2 L886.1 2920.2 L886.6 2913.8 L887.1 2909.1 L887.6 2901.9 L888.1 2892.7 L888.6 2882.9 L889.1 2873.7 L889.6 2862.9 L890.1 2851.9 L890.6 2841.2 L891.1 2831.5 L891.6 2821.9 L892.1 2816.8 L892.6 2812.9 L893.1 2811.5 L893.6 2812.7 L894.1 2814.7 L894.6 2821.5 L895.1 2828.7 L895.6 2837.2 L896.1 2846.6 L896.6 2856.5 L897.1 2866.5 L897.6 2876.2 L898.1 2885.3 L898.6 2893.6 L899.1 2901 L899.6 2907.4 L900.1 2912.9 L900.6 2917.4 L901.1 2921.2 L901.6 2924.2 L902.1 2926 L902.6 2928.7 L903.1 2930.3 L903.6 2931.1 L904.1 2932 L904.6 2933.7 L905.1 2934.4 L906.1 2935.7 L907.1 2936.8 L908.1 2937.6 L909.1 2938.3 L910.1 2938.8 L911.1 2939.2 L912.1 2939.6 L913.1 2939.8 L914.1 2940 L915.1 2940.1 L916.1 2940.2 L918.1 2940.2 L919.1 2940.1 L920.1 2940 L921.1 2939.1 L922.1 2939.4 L923.1 2939 L924.1 2938.3 L925.1 2937.5 L926.1 2936.4 L927.1 2934.9 L928.1 2931.8 L929.1 2930.6 L930.1 2927.7 L931.1 2924.1 L932.1 2919.7 L933.1 2914.5 L934.1 2907.2 L935.1 2899.6 L936.1 2891.9 L936.6 2885.2 L937.1 2880.4 L937.6 2872.4 L938.1 2865.1 L938.6 2855.4 L939.1 2843.3 L939.6 2831 L940.1 2814.1 L940.6 2797.6 L941.1 2777.1 L941.6 2753.8 L942.1 2727.8 L942.6 2699.4 L943.1 2668.9 L943.6 2636.3 L944.1 2604.4 L944.6 2571.6 L945.1 2541.3 L945.6 2513.1 L946.1 2488.6 L946.6 2469 L947.1 2454.5 L947.6 2447.7 L948.1 2447.3 L948.6 2455.8 L949.1 2474.8 L949.6 2501.4 L950.1 2534.4 L950.6 2571.3 L951.1 2611.7 L951.6 2651.9 L952.1 2690.8 L952.6 2727 L953.1 2759.7 L953.6 2787.4 L954.1 2813 L954.6 2833.5 L955.1 2850.5 L955.6 2864.3 L956.1 2875.5 L956.6 2884.6 L957.1 2890.9 L957.6 2897.3 L958.1 2903.5 L958.6 2906.9 L959.1 2911.8 L959.6 2915.2 L960.1 2918.2 L961.1 2923.4 L962.1 2927.6 L963.1 2930.9 L964.1 2933.5 L965.1 2934.7 L966.1 2937 L967.1 2938.1 L968.1 2938.2 L969.1 2939.4 L970.1 2938.6 L971.1 2940.1 L972.1 2940.2 L973.1 2939.7 L974.1 2940.4 L976.6 2940.4 L977.1 2940.3 L977.6 2940.2 L978.1 2940 L978.6 2939.1 L979.1 2939.2 L979.6 2938.5 L980.1 2937.6 L980.6 2936.3 L981.1 2933.7 L981.6 2930.9 L982.1 2929.5 L982.6 2926 L983.1 2922 L983.6 2917.4 L984.1 2912.3 L984.6 2906.1 L985.1 2900.7 L985.6 2896.2 L986.1 2891.4 L986.6 2886.6 L987.1 2884.2 L987.6 2881.1 L988.1 2881.4 L988.6 2880.1 L989.1 2881.3 L989.6 2881.8 L990.1 2882.5 L990.6 2882.7 L991.1 2883.5 L991.6 2884.6 L992.1 2885.1 L992.6 2885.3 L993.1 2885.3 L993.6 2885.2 L994.1 2885 L994.6 2884.3 L995.1 2883.8 L995.6 2885.4 L996.1 2886.3 L996.6 2887.7 L997.1 2888.3 L997.6 2891 L998.1 2894.7 L998.6 2897.8 L999.1 2901.2 L999.6 2904.7 L1000.1 2908.4 L1000.6 2911.5 L1001.1 2915.7 L1001.6 2919.2 L1002.1 2922.4 L1002.6 2925.4 L1003.1 2928.1 L1003.6 2930.4 L1004.1 2932.5 L1004.6 2934.2 L1005.1 2935.6 L1005.6 2936.1 L1006.1 2937.7 L1006.6 2938.4 L1007.1 2939 L1007.6 2939.4 L1008.1 2939.7 L1008.6 2939.9 L1009.1 2940.1 L1010.1 2939.3 L1011.1 2940.2 L1012.1 2940.1 L1013.1 2939.8 L1014.1 2939.4 L1015.1 2938.8 L1016.1 2937.1 L1017.1 2937 L1018.1 2935.9 L1019.1 2934.9 L1020.1 2934.1 L1021.1 2933.6 L1022.1 2933.5 L1023.1 2933.9 L1024.1 2934.6 L1025.1 2935.5 L1026.1 2936.6 L1027.1 2937.6 L1028.1 2938.5 L1029.1 2939.2 L1030.1 2939.7 L1031.1 2940 L1032.1 2938.9 L1033.1 2940.4 L1034.1 2940.4 L1036.1 2940.5 L1055.6 2940.4 L1056.1 2939.7 L1056.6 2940.3 L1057.1 2940.2 L1057.6 2939.9 L1058.1 2939.6 L1058.6 2938.1 L1059.1 2938.4 L1059.6 2937.4 L1060.1 2936.1 L1060.6 2934.4 L1061.1 2932.3 L1061.6 2929.7 L1062.1 2926.6 L1062.6 2923.2 L1063.1 2919.6 L1063.6 2915.8 L1064.1 2911.3 L1064.6 2909 L1065.1 2905.5 L1065.6 2904.5 L1066.1 2902.2 L1066.6 2902.5 L1067.1 2904.5 L1067.6 2906.1 L1068.1 2908.3 L1068.6 2911.1 L1069.1 2914.1 L1069.6 2917.4 L1070.1 2920.7 L1070.6 2922.7 L1071.1 2925.6 L1071.6 2929.5 L1072.1 2931.8 L1072.6 2933.8 L1073.1 2935.4 L1073.6 2936.7 L1074.1 2937.7 L1074.6 2938.5 L1075.1 2939.1 L1075.6 2939.4 L1076.1 2939 L1076.6 2939.8 L1077.1 2939.9 L1078.1 2939.9 L1078.6 2939.8 L1079.6 2939.5 L1080.6 2939 L1081.6 2938.4 L1082.6 2936.5 L1083.6 2936.5 L1084.6 2935 L1085.6 2933.2 L1086.6 2930.9 L1087.6 2928 L1088.6 2924.4 L1089.6 2919.5 L1090.1 2916.3 L1090.6 2912.4 L1091.1 2907.5 L1091.6 2901.3 L1092.1 2893.3 L1092.6 2883 L1093.1 2869.9 L1093.6 2853.3 L1094.1 2831.7 L1094.6 2805.8 L1095.1 2775.7 L1095.6 2740.8 L1096.1 2699.7 L1096.6 2654.1 L1097.1 2603.7 L1097.6 2553.3 L1098.1 2501.7 L1098.6 2452.1 L1099.1 2406 L1099.6 2367.6 L1100.1 2339.9 L1100.6 2321.7 L1101.1 2315.5 L1101.6 2320.1 L1102.1 2337.7 L1102.6 2364.4 L1103.1 2399 L1103.6 2441.3 L1104.1 2487.6 L1104.6 2536.1 L1105.1 2584.8 L1105.6 2631.9 L1106.1 2676 L1106.6 2716.1 L1107.1 2751.5 L1107.6 2780.7 L1108.1 2806.4 L1108.6 2829 L1109.1 2846.3 L1109.6 2860.1 L1110.1 2871.2 L1110.6 2879.9 L1111.1 2885.8 L1111.6 2892.4 L1112.1 2897 L1112.6 2900.8 L1113.1 2904.1 L1114.1 2909.5 L1115.1 2913.9 L1116.1 2917.7 L1117.1 2921 L1118.1 2923.8 L1119.1 2926.2 L1120.1 2928.2 L1121.1 2929.9 L1122.1 2931.3 L1123.1 2932.5 L1124.1 2932.9 L1125.1 2934.3 L1126.1 2935 L1127.1 2934.9 L1128.1 2936.2 L1129.1 2936.6 L1130.1 2937 L1131.1 2937.4 L1132.1 2937.7 L1133.1 2937.9 L1134.1 2937.7 L1135.1 2938.4 L1136.1 2938.6 L1137.1 2938.8 L1138.1 2939 L1139.1 2939.1 L1140.1 2939.2 L1141.1 2938.1 L1142.1 2939.5 L1143.1 2939.6 L1144.1 2939.7 L1145.1 2939.7 L1146.1 2939.8 L1147.1 2939.9 L1148.1 2939.9 L1149.1 2940 L1151.1 2940.1 L1153.1 2940.2 L1155.1 2940.2 L1157.1 2940.3 L1158.1 2940.3 L1159.1 2939.6 L1160.1 2939.7 L1161.1 2939.3 L1162.1 2940.4 L1164.1 2940.4 L1165.1 2939.3 L1166.1 2940.4 L1174.1 2940.5 L1179.1 2940.5 L1180.1 2939.7 L1181.1 2940.5 L1182.1 2939.2 L1183.1 2940.5 L1194.1 2940.5 L1195.1 2939.6 L1196.1 2940.5 L1198.1 2940.5 L1199.1 2939.5 L1200.1 2940.5 L1201.1 2939.9 L1202.1 2940.5 L1203.1 2939.6 L1204.1 2940.5 L1215.1 2940.5 L1216.1 2939.2 L1217.1 2939.9 L1218.1 2940.5 L1225.1 2940.5 L1226.1 2940 L1227.1 2939.2 L1228.1 2940.5 L1234.1 2940.5 L1235.1 2940.4 L1236.1 2940.3 L1237.1 2940 L1238.1 2939.6 L1239.1 2939 L1240.1 2937 L1241.1 2937.4 L1242.1 2936.8 L1243.1 2935.6 L1244.1 2935.8 L1245.1 2935.8 L1246.1 2936.5 L1247.1 2938.7 L1248.1 2938.2 L1249.1 2939.9 L1250.1 2940.2 L1251.1 2940.4 L1252.1 2940.4 L1253.1 2940.5 L1254.1 2939.5 L1255.1 2939.5 L1256.1 2939.3 L1257.1 2940.5 L1259.1 2940.5 L1260.1 2939.8 L1261.1 2940.5 L1266.1 2940.5 L1267.1 2939.9 L1268.1 2940.5 L1276.1 2940.5 L1277.1 2939.4 L1278.1 2940.5 L1279.1 2940 L1280.1 2940.5 L1288.1 2940.5 L1289.1 2939.5 L1290.1 2939.7 L1291.1 2940.5 L1295.1 2940.5 L1296.1 2939.5 L1297.1 2940.5 L1298.1 2940.5 L1299.1 2939.7 L1300.1 2940.5 L1307.1 2940.5 L1308.1 2939.2 L1309.1 2940.5 L1310.1 2939.6 L1311.1 2940.5 L1318.1 2940.5 L1319.1 2940 L1320.1 2940.5 L1324.6 2940.4 L1325.1 2940.4 L1325.6 2939.3 L1326.1 2940.1 L1326.6 2939.8 L1327.1 2939.3 L1327.6 2938.6 L1328.1 2937.6 L1328.6 2936.1 L1329.1 2934.1 L1329.6 2931.4 L1330.1 2927.9 L1330.6 2923.5 L1331.1 2918.3 L1331.6 2911.2 L1332.1 2905.5 L1332.6 2898.3 L1333.1 2891 L1333.6 2884.1 L1334.1 2877.5 L1334.6 2873.2 L1335.1 2869.2 L1335.6 2868.5 L1336.1 2869 L1336.6 2870.9 L1337.1 2874.3 L1337.6 2878.2 L1338.1 2884.2 L1338.6 2890.2 L1339.1 2896.5 L1339.6 2902.8 L1340.1 2908.9 L1340.6 2914.5 L1341.1 2919.5 L1341.6 2922.6 L1342.1 2927.6 L1342.6 2930.6 L1343.1 2933 L1343.6 2934.8 L1344.1 2936.3 L1344.6 2937.3 L1345.1 2936.7 L1345.6 2938.6 L1346.1 2939 L1346.6 2938.7 L1347.1 2939.4 L1347.6 2939.5 L1348.1 2939.6 L1349.1 2939.7 L1350.1 2939.8 L1351.1 2939.8 L1352.1 2939.9 L1353.1 2938.7 L1354.1 2940 L1356.1 2940.1 L1358.1 2940.1 L1359.1 2938.8 L1360.1 2940.2 L1361.1 2940.2 L1362.1 2939 L1363.1 2939.4 L1364.1 2940.3 L1367.1 2940.3 L1371.1 2940.4 L1372.1 2939.6 L1373.1 2939 L1374.1 2940.4 L1375.1 2939.4 L1376.1 2939.6 L1377.1 2940.4 L1380.1 2940.4 L1381.1 2939.2 L1382.1 2940.5 L1387.1 2940.5 L1388.1 2939.4 L1389.1 2940.5 L1393.1 2940.5 L1394.1 2939.9 L1395.1 2939.6 L1396.1 2940.5 L1400.1 2940.5 L1401.1 2939.9 L1402.1 2940.5 L1403.1 2939.4 L1404.1 2940.5 L1405.1 2940.5 L1406.1 2939.6 L1407.1 2940.5 L1409.1 2940.5 L1410.1 2939.6 L1411.1 2940.5 L1414.1 2940.5 L1415.1 2939.4 L1416.1 2940.5 L1419.1 2940.5 L1420.1 2939.4 L1421.1 2939.9 L1422.1 2940.5 L1426.1 2940.5 L1427.1 2940 L1428.1 2940.5 L1429.1 2939.4 L1430.1 2939.7 L1431.1 2940.5 L1433.1 2940.5 L1434.1 2939.3 L1435.1 2940.5 L1446.1 2940.5 L1447.1 2939.2 L1448.1 2939.7 L1449.1 2940.5 L1450.1 2940.5 L1451.1 2939.9 L1452.1 2939.6 L1453.1 2940.5 L1454.1 2940.5 L1455.1 2939.6 L1456.1 2940.5 L1458.1 2940.5 L1459.1 2939.6 L1460.1 2940.5 L1462.1 2940.5 L1463.1 2939.6 L1464.1 2939.6 L1465.1 2940.5 L1468.1 2940.5 L1469.1 2939.7 L1470.1 2940.5 L1471.1 2940.5 L1472.1 2939.1 L1473.1 2939.3 L1474.1 2940.5 L1475.1 2939.6 L1476.1 2939.8 L1477.1 2940.5 L1480.1 2940.5 L1481.1 2939.4 L1482.1 2940.5 L1483.1 2939.9 L1484.1 2940.5 L1486.1 2940.5 L1487.1 2939.7 L1488.1 2939.8 L1489.1 2940.5 L1493.1 2940.5 L1494.1 2939.7 L1495.1 2940.5 L1501.1 2940.5 L1502.1 2939.6 L1503.1 2940.5 L1507.1 2940.5 L1508.1 2939.5 L1509.1 2940.5 L1516.1 2940.5 L1517.1 2939.1 L1518.1 2940.5 L1520.1 2940.4 L1521.1 2940.4 L1522.1 2939.2 L1523.1 2940 L1524.1 2939.6 L1525.1 2937.8 L1526.1 2937.3 L1527.1 2937.3 L1528.1 2935.2 L1529.1 2935.1 L1530.1 2933.1 L1531.1 2933.3 L1532.1 2931.8 L1533.1 2933.1 L1534.1 2933.7 L1535.1 2934.6 L1536.1 2935.7 L1537.1 2936.8 L1538.1 2936.5 L1539.1 2938.7 L1540.1 2939.4 L1541.1 2939.8 L1542.1 2940.1 L1543.1 2940.3 L1544.1 2940.4 L1545.1 2939.6 L1546.1 2940.5 L1566.1 2940.5 L1567.1 2939.5 L1568.1 2940.5 L1569.1 2939.6 L1570.1 2940.5 L1572.1 2940.5 L1573.1 2939.8 L1574.1 2940.5 L1586.1 2940.4 L1587.1 2940.3 L1588.1 2940.2 L1589.1 2938.9 L1590.1 2939.7 L1591.1 2939.3 L1592.1 2937.9 L1593.1 2937.5 L1594.1 2937.3 L1595.1 2937.7 L1596.1 2937.5 L1597.1 2937.5 L1598.1 2937.7 L1599.1 2936.9 L1600.1 2938.5 L1601.1 2938.9 L1602.1 2939.3 L1603.1 2939.7 L1604.1 2940 L1605.1 2940.2 L1606.1 2940.3 L1607.1 2940.4 L1609.1 2940.5 L1610.1 2939.1 L1611.1 2940.5 L1613.1 2940.5 L1614.1 2939.9 L1615.1 2940.5 L1617.1 2940.5 L1618.1 2939.2 L1619.1 2940.5 L1620.1 2940.5 L1621.1 2939.9 L1622.1 2940.5 L1623.1 2939.6 L1624.1 2940.5 L1627.1 2940.5 L1628.1 2939.4 L1629.1 2940.5 L1644.1 2940.5 L1645.1 2939.4 L1646.1 2940.5 L1647.1 2939.7 L1648.1 2940.5 L1651.1 2940.5 L1652.1 2939.4 L1653.1 2940.5 L1655.1 2940.5 L1656.1 2939.6 L1657.1 2940.5 L1660.1 2940.5 L1661.1 2939.7 L1662.1 2940.5 L1663.1 2939.9 L1664.1 2939.5 L1665.1 2940.5 L1668.1 2940.5 L1669.1 2939.8 L1670.1 2940.5 L1671.1 2939.3 L1672.1 2940.5 L1678.1 2940.5 L1679.1 2939.2 L1680.1 2940.5 L1687.1 2940.5 L1688.1 2939.6 L1689.1 2940.5 L1690.1 2939.8 L1691.1 2940.5 L1695.1 2940.5 L1696.1 2939.6 L1697.1 2940.5 L1699.1 2940.5 L1700.1 2939.9 L1701.1 2940.5 L1703.1 2940.5 L1704.1 2939.5 L1705.1 2940.5 L1716.1 2940.5 L1717.1 2939.4 L1718.1 2940.5 L1723.1 2940.5 L1724.1 2939.4 L1725.1 2940.5 L1730.1 2940.5 L1731.1 2939.1 L1732.1 2939.7 L1733.1 2939.9 L1734.1 2937.8 L1735.1 2937.8 L1736.1 2935.9 L1737.1 2933.3 L1738.1 2930.6 L1739.1 2928.3 L1740.1 2927 L1741.1 2927.1 L1742.1 2928.4 L1743.1 2930.5 L1744.1 2933 L1745.1 2935.4 L1746.1 2937.3 L1747.1 2938.6 L1748.1 2939.5 L1749.1 2940 L1750.1 2940.1 L1751.1 2940 L1752.1 2939.6 L1753.1 2939.1 L1754.1 2938.3 L1755.1 2937.5 L1756.1 2936.3 L1757.1 2936.5 L1758.1 2936.6 L1759.1 2937.1 L1760.1 2937.8 L1761.1 2937.5 L1762.1 2939.3 L1763.1 2939.8 L1764.1 2940 L1765.1 2940 L1766.1 2939.7 L1767.1 2939.1 L1768.1 2938.2 L1769.1 2935.6 L1770.1 2935.7 L1771.1 2934.6 L1772.1 2934 L1773.1 2934.2 L1774.1 2934.1 L1775.1 2936.2 L1776.1 2937.5 L1777.1 2938.6 L1778.1 2939.4 L1779.1 2940 L1780.1 2940.3 L1781.1 2940.4 L1782.1 2940.5 L1785.1 2940.5 L1786.1 2939.3 L1787.1 2940.5 L1788.1 2939.4 L1789.1 2940.5 L1791.1 2940.5 L1792.1 2940.4 L1793.1 2940.2 L1794.1 2939.9 L1795.1 2939.4 L1796.1 2938.5 L1797.1 2936.4 L1798.1 2936 L1799.1 2934.9 L1800.1 2934.1 L1801.1 2934 L1802.1 2933.5 L1803.1 2935.4 L1804.1 2935 L1805.1 2936.3 L1806.1 2934.2 L1807.1 2933.8 L1808.1 2931.2 L1809.1 2928.3 L1810.1 2926.1 L1811.1 2925.1 L1812.1 2925.7 L1813.1 2926.9 L1814.1 2930 L1815.1 2932.8 L1816.1 2935.4 L1817.1 2937.4 L1818.1 2938.8 L1819.1 2939.6 L1820.1 2940.1 L1821.1 2940.3 L1822.1 2940.4 L1824.1 2940.5 L1825.1 2940.5 L1826.1 2939.3 L1827.1 2940.5 L1831.1 2940.5 L1832.1 2939.6 L1833.1 2940.5 L1845.1 2940.5 L1846.1 2939.3 L1847.1 2940.5 L1848.1 2939.6 L1849.1 2940.5 L1860.1 2940.5 L1861.1 2939.5 L1862.1 2940.5 L1867.1 2940.5 L1868.1 2939.1 L1869.1 2940.5 L1871.1 2940.5 L1872.1 2939.4 L1873.1 2940.3 L1874.1 2940.2 L1875.1 2940 L1876.1 2939.7 L1877.1 2939.4 L1878.1 2939 L1879.1 2937.5 L1880.1 2938.1 L1881.1 2937.7 L1882.1 2937.5 L1883.1 2937.5 L1884.1 2937.7 L1885.1 2938 L1886.1 2938.4 L1887.1 2938.9 L1888.1 2939.3 L1889.1 2939.7 L1890.1 2938.6 L1891.1 2939.3 L1892.1 2940.3 L1893.1 2939.1 L1894.1 2939.1 L1895.1 2940.5 L1900.1 2940.5 L1901.1 2939.2 L1902.1 2939.4 L1903.1 2940.5 L1904.1 2940.5 L1905.1 2939.7 L1906.1 2940.5 L1915.1 2940.5 L1916.1 2939.6 L1917.1 2940.5 L1919.1 2940.5 L1920.1 2939.4 L1921.1 2939.1 L1922.1 2939.6 L1923.1 2940.5 L1925.1 2940.5 L1926.1 2939.3 L1927.1 2940.5 L1928.1 2939.7 L1929.1 2940.5 L1936.1 2940.5 L1937.1 2939.3 L1938.1 2940.5 L1940.1 2940.5 L1941.1 2939.3 L1942.1 2940.5 L1946.1 2940.5 L1947.1 2939.6 L1948.1 2940.5 L1957.1 2940.5 L1958.1 2939.9 L1959.1 2940.5 L1964.1 2940.5 L1965.1 2939.8 L1966.1 2940.5 L1967.1 2940.5 L1968.1 2939.9 L1969.1 2939.1 L1970.1 2940.5 L1971.1 2939.4 L1972.1 2940.5 L1980.1 2940.5 L1981.1 2940 L1982.1 2940.5 L1983.1 2940.5 L1984.1 2939.6 L1985.1 2940.5 L1986.1 2939.7 L1987.1 2940.5 L1988.1 2940.5 L1989.1 2939.4 L1990.1 2940.5 L1997.1 2940.5 L1998.1 2939.9 L1999.1 2940.5 L2001.1 2940.5 L2002.1 2939.4 L2003.1 2940.5 L2006.1 2940.5 L2007.1 2939.5 L2008.1 2940.5 L2022.1 2940.5 L2023.1 2939.1 L2024.1 2940.5 L2036.1 2940.5 L2037.1 2939.6 L2038.1 2940.5 L2039.1 2939.2 L2040.1 2940.5 L2041.1 2939.5 L2042.1 2940.5 L2043.1 2940.5 L2044.1 2939.9 L2045.1 2940.5 L2054.1 2940.5 L2055.1 2939.9 L2056.1 2939.2 L2057.1 2940.5 L2058.1 2940 L2059.1 2939.7 L2060.1 2940.5 L2063.1 2940.5 L2064.1 2939.5 L2065.1 2940.5 L2068.1 2940.5 L2069.1 2939.8 L2070.1 2940.5 L2080.1 2940.5 L2081.1 2939.9 L2082.1 2939.9 L2083.1 2939.2 L2084.1 2940.5 L2087.1 2940.5 L2088.1 2939.7 L2089.1 2940.5 L2093.1 2940.5 L2094.1 2939.2 L2095.1 2940.5 L2096.1 2940.5 L2097.1 2939.7 L2098.1 2940.5 L2100.1 2940.5 L2101.1 2940 L2102.1 2940.5 L2104.1 2940.5 L2105.1 2939.4 L2106.1 2940.5 L2107.1 2940.5 L2108.1 2939.7 L2108.6 2940.4 L2109.1 2940.4 L2109.6 2940.3 L2110.1 2938.9 L2110.6 2938.5 L2111.1 2939.2 L2111.6 2938.3 L2112.1 2936.9 L2112.6 2934.8 L2113.1 2931.7 L2113.6 2927.3 L2114.1 2921.5 L2114.6 2914 L2115.1 2904.6 L2115.6 2892.7 L2116.1 2880.7 L2116.6 2865.8 L2117.1 2852.8 L2117.6 2839.2 L2118.1 2827.3 L2118.6 2817.9 L2119.1 2811.9 L2119.6 2809.8 L2120.1 2811.1 L2120.6 2815 L2121.1 2821.2 L2121.6 2829.3 L2122.1 2838.9 L2122.6 2849.3 L2123.1 2859.1 L2123.6 2870.7 L2124.1 2880.8 L2124.6 2890.1 L2125.1 2898.3 L2125.6 2905.5 L2126.1 2910.5 L2126.6 2915.4 L2127.1 2920.3 L2127.6 2923.5 L2128.1 2926 L2128.6 2926.9 L2129.1 2929.5 L2129.6 2930.7 L2130.1 2931.7 L2130.6 2932.5 L2131.1 2932.5 L2131.6 2933.8 L2132.6 2934.9 L2133.6 2935.2 L2134.6 2936.5 L2135.6 2937.1 L2136.6 2936.8 L2137.6 2938 L2138.6 2938.4 L2139.6 2938.7 L2140.6 2938.9 L2141.6 2939.1 L2142.6 2939.2 L2143.6 2939.4 L2144.6 2939.5 L2145.6 2939.6 L2146.6 2939.7 L2147.6 2939.7 L2148.6 2939.8 L2149.6 2939.9 L2150.6 2939.9 L2151.6 2940 L2152.6 2939.4 L2153.6 2940 L2155.6 2940.1 L2157.6 2940.2 L2159.6 2940.2 L2162.6 2940.3 L2164.6 2940.3 L2165.6 2939.2 L2166.6 2939.5 L2167.6 2940.4 L2173.6 2940.4 L2175.6 2940.4 L2176.6 2939.2 L2177.6 2940.4 L2180.6 2940.5 L2181.6 2939.2 L2182.6 2939.2 L2183.6 2940.5 L2184.6 2940.5 L2185.6 2939.2 L2186.6 2940.5 L2194.6 2940.5 L2195.6 2939.6 L2196.6 2940.5 L2203.6 2940.5"/>
<use href="#trD" x="1.1"/>
</g>
<text x="93.4" y="2332.4" text-anchor="end" class="ser">100</text>
<text x="92.6" y="2958.7" text-anchor="end" class="ser">0</text>
<text transform="translate(29.5,2641.1) scale(0.61,1)" class="pct">%</text>
<text x="247.9" y="3011.8" text-anchor="middle" class="ser">4</text>
<text x="492.4" y="3011.8" text-anchor="middle" class="ser">6</text>
<text x="737.0" y="3011.8" text-anchor="middle" class="ser">8</text>
<text x="981.5" y="3011.8" text-anchor="middle" class="ser">10</text>
<text x="1226.0" y="3011.8" text-anchor="middle" class="ser">12</text>
<text x="1470.6" y="3011.8" text-anchor="middle" class="ser">14</text>
<text x="1715.1" y="3011.8" text-anchor="middle" class="ser">16</text>
<text x="1959.7" y="3011.8" text-anchor="middle" class="ser">18</text>
<text x="2204.2" y="3011.8" text-anchor="middle" class="ser">20</text>
<text x="168.4" y="2386.8" class="let">D</text>
<text transform="translate(204.2,2867.2) scale(0.88,1)" class="pk">1</text>
<text transform="translate(340.6,2762.2) scale(0.88,1)" class="pk">2</text>
<text transform="translate(395.3,2859.2) scale(0.88,1)" class="pk">3</text>
<text transform="translate(622.2,2808.6) scale(0.88,1)" class="pk">4</text>
<text transform="translate(672.8,2914.2) scale(0.88,1)" class="pk">5</text>
<text transform="translate(810.6,2884.4) scale(0.88,1)" class="pk">6</text>
<text transform="translate(869.9,2765.5) scale(0.88,1)" class="pk">7</text>
<text transform="translate(918.4,2422.2) scale(0.88,1)" class="pk">8</text>
<text transform="translate(1086.8,2313.9) scale(0.88,1)" class="pk">9</text>
<text transform="translate(1138.2,2892.7) scale(0.88,1)" class="pk">10</text>
<text transform="translate(1416.0,2906.0) scale(0.88,1)" class="pk">11</text>
<text transform="translate(1715.2,2885.9) scale(0.88,1)" class="pk">12</text>
<text transform="translate(1798.1,2889.1) scale(0.88,1)" class="pk">13</text>
<text transform="translate(2086.5,2784.3) scale(0.88,1)" class="pk">14</text>
<text x="1012.5" y="3104" class="ttl">Time(min)</text>
</svg>
</body></html>
